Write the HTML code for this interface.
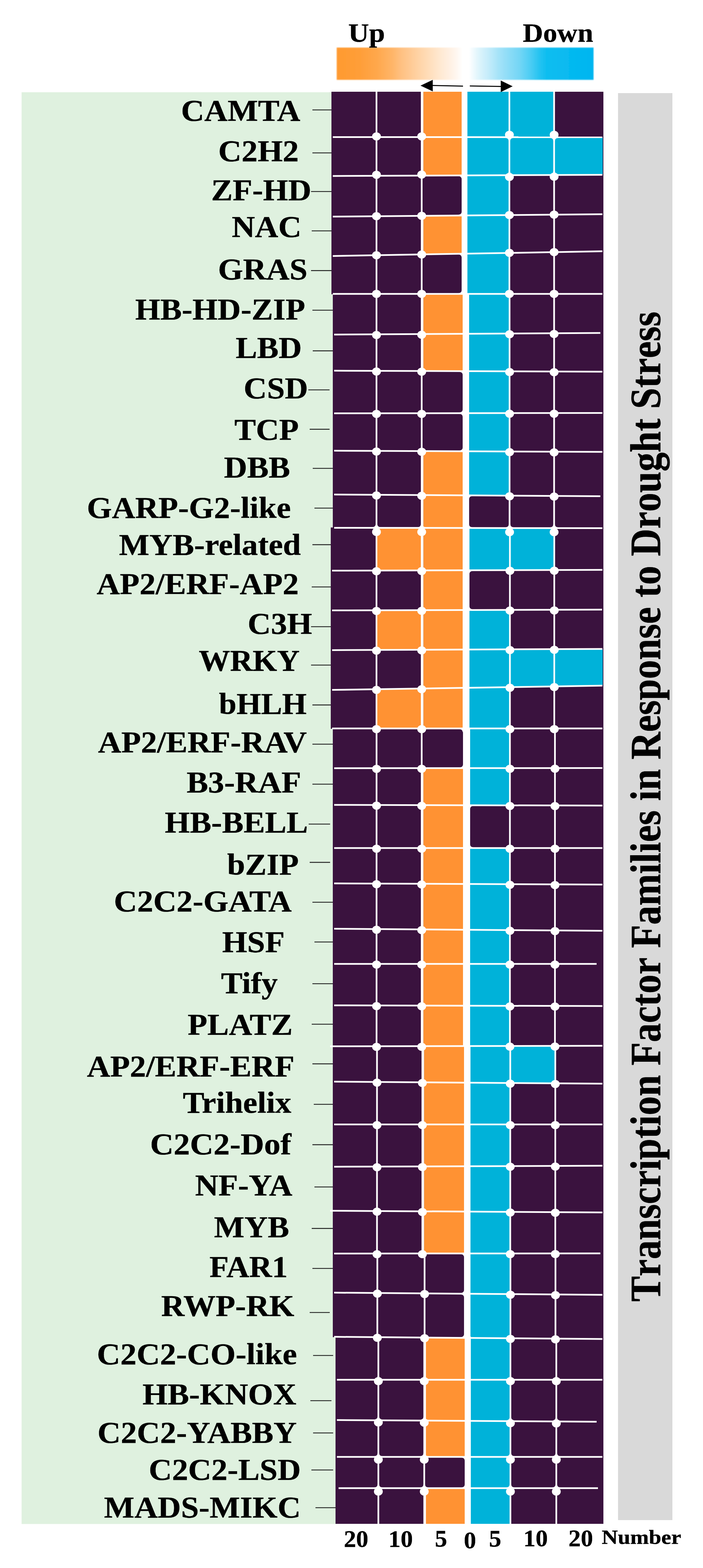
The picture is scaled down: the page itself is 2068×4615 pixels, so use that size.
<!DOCTYPE html>
<html lang="en"><head><meta charset="utf-8"><title>Transcription Factor Families in Response to Drought Stress</title>
<style>
html,body{margin:0;padding:0;background:#fff;}
body{width:2068px;height:4615px;overflow:hidden;}
svg{display:block;}
text{font-family:'Liberation Serif',serif;font-weight:bold;fill:#000;stroke:#000;stroke-width:0.6px;stroke-linejoin:round;}
.lbl{font-size:88px;text-anchor:end;}
.ax{font-size:70px;text-anchor:middle;}
.tk{stroke:#222;stroke-width:2.6;}
.wl{stroke:#fff;stroke-width:5;stroke-linecap:butt;}
.dot{fill:#fff;}
</style></head><body>
<svg width="2068" height="4615" viewBox="0 0 2068 4615" role="img" aria-label="Transcription factor families in response to drought stress">
<defs>
<linearGradient id="lg" x1="0" y1="0" x2="1" y2="0">
<stop offset="0" stop-color="#ff9a30"/>
<stop offset="0.09" stop-color="#ff9e38"/>
<stop offset="0.16" stop-color="#ffa84d"/>
<stop offset="0.22" stop-color="#ffb66a"/>
<stop offset="0.25" stop-color="#ffc081"/>
<stop offset="0.33" stop-color="#ffd6ab"/>
<stop offset="0.41" stop-color="#ffead5"/>
<stop offset="0.46" stop-color="#fff5ec"/>
<stop offset="0.49" stop-color="#ffffff"/>
<stop offset="0.515" stop-color="#ffffff"/>
<stop offset="0.55" stop-color="#e0f5fc"/>
<stop offset="0.59" stop-color="#c5ecfa"/>
<stop offset="0.63" stop-color="#a5e3f8"/>
<stop offset="0.67" stop-color="#8cdcf7"/>
<stop offset="0.71" stop-color="#75d6f5"/>
<stop offset="0.75" stop-color="#50cef4"/>
<stop offset="0.79" stop-color="#25c3f1"/>
<stop offset="0.82" stop-color="#0cbdf0"/>
<stop offset="1" stop-color="#00b5f0"/>
</linearGradient>
<filter id="soft" x="-2%" y="-10%" width="104%" height="120%"><feGaussianBlur stdDeviation="1.6"/></filter>
</defs>
<rect x="0" y="0" width="2068" height="4615" fill="#fff"/>
<rect x="63.5" y="271.5" width="926.5" height="4214" fill="#dff1df"/>
<rect x="1818" y="274" width="160" height="4200" fill="#d9d9d9"/>
<g id="grid">
<rect x="975" y="270" width="800" height="596" fill="#3a123e"/>
<rect x="979" y="864" width="796" height="690.5" fill="#3a123e"/>
<rect x="973" y="1552.5" width="802" height="592.5" fill="#3a123e"/>
<rect x="979" y="2143" width="796" height="937.5" fill="#3a123e"/>
<rect x="979" y="3078.5" width="796" height="612" fill="#3a123e"/>
<rect x="979" y="3688.5" width="796" height="247" fill="#3a123e"/>
<rect x="987" y="3933.5" width="788" height="551.5" fill="#3a123e"/>
<path fill="#fff" d="M1350,401.1 A8,8 0 0 0 1358,393.1 L1363,393.1 A8,8 0 0 0 1371,401.1 L1371,406.1 A8,8 0 0 0 1363,414.1 L1358,414.1 A8,8 0 0 0 1350,406.1 Z M1362,401.1 A8,8 0 0 0 1370,393.1 L1375,393.1 A8,8 0 0 0 1383,401.1 L1383,406.1 A8,8 0 0 0 1375,414.1 L1370,414.1 A8,8 0 0 0 1362,406.1 Z M1350,513.8 A8,8 0 0 0 1358,505.8 L1363,505.8 A8,8 0 0 0 1371,513.8 L1371,518.8 A8,8 0 0 0 1363,526.8 L1358,526.8 A8,8 0 0 0 1350,518.8 Z M1362,513.8 A8,8 0 0 0 1370,505.8 L1375,505.8 A8,8 0 0 0 1383,513.8 L1383,518.8 A8,8 0 0 0 1375,526.8 L1370,526.8 A8,8 0 0 0 1362,518.8 Z M1350,631.6 A8,8 0 0 0 1358,623.6 L1363,623.6 A8,8 0 0 0 1371,631.6 L1371,636.6 A8,8 0 0 0 1363,644.6 L1358,644.6 A8,8 0 0 0 1350,636.6 Z M1362,631.5 A8,8 0 0 0 1370,623.5 L1375,623.5 A8,8 0 0 0 1383,631.5 L1383,636.5 A8,8 0 0 0 1375,644.5 L1370,644.5 A8,8 0 0 0 1362,636.5 Z M1350,744.3 A8,8 0 0 0 1358,736.3 L1363,736.3 A8,8 0 0 0 1371,744.3 L1371,749.3 A8,8 0 0 0 1363,757.3 L1358,757.3 A8,8 0 0 0 1350,749.3 Z M1362,744 A8,8 0 0 0 1370,736 L1375,736 A8,8 0 0 0 1383,744 L1383,749 A8,8 0 0 0 1375,757 L1370,757 A8,8 0 0 0 1362,749 Z M1350,862.5 A8,8 0 0 0 1358,854.5 L1363,854.5 A8,8 0 0 0 1371,862.5 L1371,867.5 A8,8 0 0 0 1363,875.5 L1358,875.5 A8,8 0 0 0 1350,867.5 Z M1362,862.5 A8,8 0 0 0 1370,854.5 L1375,854.5 A8,8 0 0 0 1383,862.5 L1383,867.5 A8,8 0 0 0 1375,875.5 L1370,875.5 A8,8 0 0 0 1362,867.5 Z M1353,980 A8,8 0 0 0 1361,972 L1366,972 A8,8 0 0 0 1374,980 L1374,985 A8,8 0 0 0 1366,993 L1361,993 A8,8 0 0 0 1353,985 Z M1367,979.9 A8,8 0 0 0 1375,971.9 L1380,971.9 A8,8 0 0 0 1388,979.9 L1388,984.9 A8,8 0 0 0 1380,992.9 L1375,992.9 A8,8 0 0 0 1367,984.9 Z M1353,1090 A8,8 0 0 0 1361,1082 L1366,1082 A8,8 0 0 0 1374,1090 L1374,1095 A8,8 0 0 0 1366,1103 L1361,1103 A8,8 0 0 0 1353,1095 Z M1367,1090 A8,8 0 0 0 1375,1082 L1380,1082 A8,8 0 0 0 1388,1090 L1388,1095 A8,8 0 0 0 1380,1103 L1375,1103 A8,8 0 0 0 1367,1095 Z M1353,1213.5 A8,8 0 0 0 1361,1205.5 L1366,1205.5 A8,8 0 0 0 1374,1213.5 L1374,1218.5 A8,8 0 0 0 1366,1226.5 L1361,1226.5 A8,8 0 0 0 1353,1218.5 Z M1367,1213.5 A8,8 0 0 0 1375,1205.5 L1380,1205.5 A8,8 0 0 0 1388,1213.5 L1388,1218.5 A8,8 0 0 0 1380,1226.5 L1375,1226.5 A8,8 0 0 0 1367,1218.5 Z M1353,1325.7 A8,8 0 0 0 1361,1317.7 L1366,1317.7 A8,8 0 0 0 1374,1325.7 L1374,1330.7 A8,8 0 0 0 1366,1338.7 L1361,1338.7 A8,8 0 0 0 1353,1330.7 Z M1367,1325.8 A8,8 0 0 0 1375,1317.8 L1380,1317.8 A8,8 0 0 0 1388,1325.8 L1388,1330.8 A8,8 0 0 0 1380,1338.8 L1375,1338.8 A8,8 0 0 0 1367,1330.8 Z M1353,1455.4 A8,8 0 0 0 1361,1447.4 L1366,1447.4 A8,8 0 0 0 1374,1455.4 L1374,1460.4 A8,8 0 0 0 1366,1468.4 L1361,1468.4 A8,8 0 0 0 1353,1460.4 Z M1367,1455.5 A8,8 0 0 0 1375,1447.5 L1380,1447.5 A8,8 0 0 0 1388,1455.5 L1388,1460.5 A8,8 0 0 0 1380,1468.5 L1375,1468.5 A8,8 0 0 0 1367,1460.5 Z M1353,1551.5 A8,8 0 0 0 1361,1543.5 L1366,1543.5 A8,8 0 0 0 1374,1551.5 L1374,1556.5 A8,8 0 0 0 1366,1564.5 L1361,1564.5 A8,8 0 0 0 1353,1556.5 Z M1367,1551.5 A8,8 0 0 0 1375,1543.5 L1380,1543.5 A8,8 0 0 0 1388,1551.5 L1388,1556.5 A8,8 0 0 0 1380,1564.5 L1375,1564.5 A8,8 0 0 0 1367,1556.5 Z M1353,1676 A8,8 0 0 0 1361,1668 L1366,1668 A8,8 0 0 0 1374,1676 L1374,1681 A8,8 0 0 0 1366,1689 L1361,1689 A8,8 0 0 0 1353,1681 Z M1368,1675.9 A8,8 0 0 0 1376,1667.9 L1381,1667.9 A8,8 0 0 0 1389,1675.9 L1389,1680.9 A8,8 0 0 0 1381,1688.9 L1376,1688.9 A8,8 0 0 0 1368,1680.9 Z M1353,1793 A8,8 0 0 0 1361,1785 L1366,1785 A8,8 0 0 0 1374,1793 L1374,1798 A8,8 0 0 0 1366,1806 L1361,1806 A8,8 0 0 0 1353,1798 Z M1368,1792.9 A8,8 0 0 0 1376,1784.9 L1381,1784.9 A8,8 0 0 0 1389,1792.9 L1389,1797.9 A8,8 0 0 0 1381,1805.9 L1376,1805.9 A8,8 0 0 0 1368,1797.9 Z M1353,1909.3 A8,8 0 0 0 1361,1901.3 L1366,1901.3 A8,8 0 0 0 1374,1909.3 L1374,1914.3 A8,8 0 0 0 1366,1922.3 L1361,1922.3 A8,8 0 0 0 1353,1914.3 Z M1368,1909.2 A8,8 0 0 0 1376,1901.2 L1381,1901.2 A8,8 0 0 0 1389,1909.2 L1389,1914.2 A8,8 0 0 0 1381,1922.2 L1376,1922.2 A8,8 0 0 0 1368,1914.2 Z M1353,2022 A8,8 0 0 0 1361,2014 L1366,2014 A8,8 0 0 0 1374,2022 L1374,2027 A8,8 0 0 0 1366,2035 L1361,2035 A8,8 0 0 0 1353,2027 Z M1368,2021.7 A8,8 0 0 0 1376,2013.7 L1381,2013.7 A8,8 0 0 0 1389,2021.7 L1389,2026.7 A8,8 0 0 0 1381,2034.7 L1376,2034.7 A8,8 0 0 0 1368,2026.7 Z M1353,2141.5 A8,8 0 0 0 1361,2133.5 L1366,2133.5 A8,8 0 0 0 1374,2141.5 L1374,2146.5 A8,8 0 0 0 1366,2154.5 L1361,2154.5 A8,8 0 0 0 1353,2146.5 Z M1368,2141.5 A8,8 0 0 0 1376,2133.5 L1381,2133.5 A8,8 0 0 0 1389,2141.5 L1389,2146.5 A8,8 0 0 0 1381,2154.5 L1376,2154.5 A8,8 0 0 0 1368,2146.5 Z M1354,2258.3 A8,8 0 0 0 1362,2250.3 L1367,2250.3 A8,8 0 0 0 1375,2258.3 L1375,2263.3 A8,8 0 0 0 1367,2271.3 L1362,2271.3 A8,8 0 0 0 1354,2263.3 Z M1370,2258.2 A8,8 0 0 0 1378,2250.2 L1383,2250.2 A8,8 0 0 0 1391,2258.2 L1391,2263.2 A8,8 0 0 0 1383,2271.2 L1378,2271.2 A8,8 0 0 0 1370,2263.2 Z M1354,2367.5 A8,8 0 0 0 1362,2359.5 L1367,2359.5 A8,8 0 0 0 1375,2367.5 L1375,2372.5 A8,8 0 0 0 1367,2380.5 L1362,2380.5 A8,8 0 0 0 1354,2372.5 Z M1370,2367.5 A8,8 0 0 0 1378,2359.5 L1383,2359.5 A8,8 0 0 0 1391,2367.5 L1391,2372.5 A8,8 0 0 0 1383,2380.5 L1378,2380.5 A8,8 0 0 0 1370,2372.5 Z M1354,2493.5 A8,8 0 0 0 1362,2485.5 L1367,2485.5 A8,8 0 0 0 1375,2493.5 L1375,2498.5 A8,8 0 0 0 1367,2506.5 L1362,2506.5 A8,8 0 0 0 1354,2498.5 Z M1370,2493.5 A8,8 0 0 0 1378,2485.5 L1383,2485.5 A8,8 0 0 0 1391,2493.5 L1391,2498.5 A8,8 0 0 0 1383,2506.5 L1378,2506.5 A8,8 0 0 0 1370,2498.5 Z M1354,2599.2 A8,8 0 0 0 1362,2591.2 L1367,2591.2 A8,8 0 0 0 1375,2599.2 L1375,2604.2 A8,8 0 0 0 1367,2612.2 L1362,2612.2 A8,8 0 0 0 1354,2604.2 Z M1370,2599.3 A8,8 0 0 0 1378,2591.3 L1383,2591.3 A8,8 0 0 0 1391,2599.3 L1391,2604.3 A8,8 0 0 0 1383,2612.3 L1378,2612.3 A8,8 0 0 0 1370,2604.3 Z M1354,2733.9 A8,8 0 0 0 1362,2725.9 L1367,2725.9 A8,8 0 0 0 1375,2733.9 L1375,2738.9 A8,8 0 0 0 1367,2746.9 L1362,2746.9 A8,8 0 0 0 1354,2738.9 Z M1370,2734 A8,8 0 0 0 1378,2726 L1383,2726 A8,8 0 0 0 1391,2734 L1391,2739 A8,8 0 0 0 1383,2747 L1378,2747 A8,8 0 0 0 1370,2739 Z M1354,2834.5 A8,8 0 0 0 1362,2826.5 L1367,2826.5 A8,8 0 0 0 1375,2834.5 L1375,2839.5 A8,8 0 0 0 1367,2847.5 L1362,2847.5 A8,8 0 0 0 1354,2839.5 Z M1370,2834.5 A8,8 0 0 0 1378,2826.5 L1383,2826.5 A8,8 0 0 0 1391,2834.5 L1391,2839.5 A8,8 0 0 0 1383,2847.5 L1378,2847.5 A8,8 0 0 0 1370,2839.5 Z M1354,2957.5 A8,8 0 0 0 1362,2949.5 L1367,2949.5 A8,8 0 0 0 1375,2957.5 L1375,2962.5 A8,8 0 0 0 1367,2970.5 L1362,2970.5 A8,8 0 0 0 1354,2962.5 Z M1370,2957.5 A8,8 0 0 0 1378,2949.5 L1383,2949.5 A8,8 0 0 0 1391,2957.5 L1391,2962.5 A8,8 0 0 0 1383,2970.5 L1378,2970.5 A8,8 0 0 0 1370,2962.5 Z M1354,3076.3 A8,8 0 0 0 1362,3068.3 L1367,3068.3 A8,8 0 0 0 1375,3076.3 L1375,3081.3 A8,8 0 0 0 1367,3089.3 L1362,3089.3 A8,8 0 0 0 1354,3081.3 Z M1370,3076.2 A8,8 0 0 0 1378,3068.2 L1383,3068.2 A8,8 0 0 0 1391,3076.2 L1391,3081.2 A8,8 0 0 0 1383,3089.2 L1378,3089.2 A8,8 0 0 0 1370,3081.2 Z M1357,3183.9 A8,8 0 0 0 1365,3175.9 L1370,3175.9 A8,8 0 0 0 1378,3183.9 L1378,3188.9 A8,8 0 0 0 1370,3196.9 L1365,3196.9 A8,8 0 0 0 1357,3188.9 Z M1371,3184 A8,8 0 0 0 1379,3176 L1384,3176 A8,8 0 0 0 1392,3184 L1392,3189 A8,8 0 0 0 1384,3197 L1379,3197 A8,8 0 0 0 1371,3189 Z M1357,3307.1 A8,8 0 0 0 1365,3299.1 L1370,3299.1 A8,8 0 0 0 1378,3307.1 L1378,3312.1 A8,8 0 0 0 1370,3320.1 L1365,3320.1 A8,8 0 0 0 1357,3312.1 Z M1371,3307.1 A8,8 0 0 0 1379,3299.1 L1384,3299.1 A8,8 0 0 0 1392,3307.1 L1392,3312.1 A8,8 0 0 0 1384,3320.1 L1379,3320.1 A8,8 0 0 0 1371,3312.1 Z M1357,3430 A8,8 0 0 0 1365,3422 L1370,3422 A8,8 0 0 0 1378,3430 L1378,3435 A8,8 0 0 0 1370,3443 L1365,3443 A8,8 0 0 0 1357,3435 Z M1371,3430 A8,8 0 0 0 1379,3422 L1384,3422 A8,8 0 0 0 1392,3430 L1392,3435 A8,8 0 0 0 1384,3443 L1379,3443 A8,8 0 0 0 1371,3435 Z M1357,3563.5 A8,8 0 0 0 1365,3555.5 L1370,3555.5 A8,8 0 0 0 1378,3563.5 L1378,3568.5 A8,8 0 0 0 1370,3576.5 L1365,3576.5 A8,8 0 0 0 1357,3568.5 Z M1371,3563.5 A8,8 0 0 0 1379,3555.5 L1384,3555.5 A8,8 0 0 0 1392,3563.5 L1392,3568.5 A8,8 0 0 0 1384,3576.5 L1379,3576.5 A8,8 0 0 0 1371,3568.5 Z M1357,3686.8 A8,8 0 0 0 1365,3678.8 L1370,3678.8 A8,8 0 0 0 1378,3686.8 L1378,3691.8 A8,8 0 0 0 1370,3699.8 L1365,3699.8 A8,8 0 0 0 1357,3691.8 Z M1371,3686.7 A8,8 0 0 0 1379,3678.7 L1384,3678.7 A8,8 0 0 0 1392,3686.7 L1392,3691.7 A8,8 0 0 0 1384,3699.7 L1379,3699.7 A8,8 0 0 0 1371,3691.7 Z M1357,3805.2 A8,8 0 0 0 1365,3797.2 L1370,3797.2 A8,8 0 0 0 1378,3805.2 L1378,3810.2 A8,8 0 0 0 1370,3818.2 L1365,3818.2 A8,8 0 0 0 1357,3810.2 Z M1371,3805.3 A8,8 0 0 0 1379,3797.3 L1384,3797.3 A8,8 0 0 0 1392,3805.3 L1392,3810.3 A8,8 0 0 0 1384,3818.3 L1379,3818.3 A8,8 0 0 0 1371,3810.3 Z M1357,3935.2 A8,8 0 0 0 1365,3927.2 L1370,3927.2 A8,8 0 0 0 1378,3935.2 L1378,3940.2 A8,8 0 0 0 1370,3948.2 L1365,3948.2 A8,8 0 0 0 1357,3940.2 Z M1371,3935.3 A8,8 0 0 0 1379,3927.3 L1384,3927.3 A8,8 0 0 0 1392,3935.3 L1392,3940.3 A8,8 0 0 0 1384,3948.3 L1379,3948.3 A8,8 0 0 0 1371,3940.3 Z M1359,4058.5 A8,8 0 0 0 1367,4050.5 L1372,4050.5 A8,8 0 0 0 1380,4058.5 L1380,4063.5 A8,8 0 0 0 1372,4071.5 L1367,4071.5 A8,8 0 0 0 1359,4063.5 Z M1372,4058.5 A8,8 0 0 0 1380,4050.5 L1385,4050.5 A8,8 0 0 0 1393,4058.5 L1393,4063.5 A8,8 0 0 0 1385,4071.5 L1380,4071.5 A8,8 0 0 0 1372,4063.5 Z M1359,4179.5 A8,8 0 0 0 1367,4171.5 L1372,4171.5 A8,8 0 0 0 1380,4179.5 L1380,4184.5 A8,8 0 0 0 1372,4192.5 L1367,4192.5 A8,8 0 0 0 1359,4184.5 Z M1372,4179.5 A8,8 0 0 0 1380,4171.5 L1385,4171.5 A8,8 0 0 0 1393,4179.5 L1393,4184.5 A8,8 0 0 0 1385,4192.5 L1380,4192.5 A8,8 0 0 0 1372,4184.5 Z M1359,4285.5 A8,8 0 0 0 1367,4277.5 L1372,4277.5 A8,8 0 0 0 1380,4285.5 L1380,4290.5 A8,8 0 0 0 1372,4298.5 L1367,4298.5 A8,8 0 0 0 1359,4290.5 Z M1372,4285.5 A8,8 0 0 0 1380,4277.5 L1385,4277.5 A8,8 0 0 0 1393,4285.5 L1393,4290.5 A8,8 0 0 0 1385,4298.5 L1380,4298.5 A8,8 0 0 0 1372,4290.5 Z M1359,4377.5 A8,8 0 0 0 1367,4369.5 L1372,4369.5 A8,8 0 0 0 1380,4377.5 L1380,4382.5 A8,8 0 0 0 1372,4390.5 L1367,4390.5 A8,8 0 0 0 1359,4382.5 Z M1372,4377.5 A8,8 0 0 0 1380,4369.5 L1385,4369.5 A8,8 0 0 0 1393,4377.5 L1393,4382.5 A8,8 0 0 0 1385,4390.5 L1380,4390.5 A8,8 0 0 0 1372,4382.5 Z"/>
<polygon points="1245.5,270 1358,270 1358,402.3 1245.5,402.3" fill="#ff9233"/>
<polygon points="1240.5,270 1245.5,270 1245.5,403.6 1240.5,403.6" fill="#fff"/>
<polygon points="1375,270 1497.2,270 1497.2,402.4 1375,402.3" fill="#00b2d9"/>
<polygon points="1499.8,270 1628.7,270 1628.7,402.4 1499.8,402.4" fill="#00b2d9"/>
<polygon points="1245.5,404.9 1358,404.9 1358,515 1245.5,515.5" fill="#ff9233"/>
<polygon points="1240.5,403.6 1245.5,403.6 1245.5,516.8 1240.5,516.8" fill="#fff"/>
<polygon points="1375,404.9 1497.2,405 1497.2,514.4 1375,515" fill="#00b2d9"/>
<polygon points="1499.8,405 1628.7,405 1628.7,513.8 1499.8,514.4" fill="#00b2d9"/>
<polygon points="1631.3,405 1773,405.1 1773,513.2 1631.3,513.8" fill="#00b2d9"/>
<polygon points="1375,517.5 1497.2,517 1497.2,631.6 1375,632.7" fill="#00b2d9"/>
<polygon points="1245.5,636.4 1358,635.4 1358,745.5 1245.5,747.5" fill="#ff9233"/>
<polygon points="1240.5,635.2 1245.5,635.1 1245.5,748.8 1240.5,748.9" fill="#fff"/>
<polygon points="1375,635.3 1497.2,634.2 1497.2,743.1 1375,745.2" fill="#00b2d9"/>
<polygon points="1375,747.8 1497.2,745.7 1497.2,863.7 1375,863.7" fill="#00b2d9"/>
<polygon points="1245.5,866.3 1361,866.3 1361,981.2 1245.5,981.9" fill="#ff9233"/>
<polygon points="1240.5,865 1245.5,865 1245.5,983.2 1240.5,983.2" fill="#fff"/>
<polygon points="1380,866.3 1497.7,866.3 1497.7,980.4 1380,981.1" fill="#00b2d9"/>
<polygon points="1245.5,984.5 1361,983.8 1361,1091.1 1245.5,1090.7" fill="#ff9233"/>
<polygon points="1240.5,983.2 1245.5,983.2 1245.5,1092 1240.5,1092" fill="#fff"/>
<polygon points="1380,983.7 1497.7,983 1497.7,1091.7 1380,1091.2" fill="#00b2d9"/>
<polygon points="1380,1093.8 1497.7,1094.3 1497.7,1214.5 1380,1214.7" fill="#00b2d9"/>
<polygon points="1380,1217.3 1497.7,1217.1 1497.7,1327.5 1380,1327" fill="#00b2d9"/>
<polygon points="1245.5,1329 1361,1329.5 1361,1456.6 1245.5,1455.9" fill="#ff9233"/>
<polygon points="1240.5,1327.7 1245.5,1327.7 1245.5,1457.2 1240.5,1457.2" fill="#fff"/>
<polygon points="1380,1329.6 1497.7,1330.1 1497.7,1457.5 1380,1456.7" fill="#00b2d9"/>
<polygon points="1245.5,1458.5 1361,1459.2 1361,1552.7 1245.5,1552.5" fill="#ff9233"/>
<polygon points="1240.5,1457.2 1245.5,1457.2 1245.5,1553.8 1240.5,1553.8" fill="#fff"/>
<polygon points="1245.5,1555.1 1361,1555.3 1361,1677.2 1245.5,1677.5" fill="#ff9233"/>
<polygon points="1108.8,1555 1239.2,1555.1 1239.2,1677.5 1108.8,1677.9" fill="#ff9233"/>
<polygon points="1240.5,1553.8 1245.5,1553.8 1245.5,1678.8 1240.5,1678.8" fill="#fff"/>
<polygon points="1381,1555.3 1498.7,1555.5 1498.7,1676.8 1381,1677.1" fill="#00b2d9"/>
<polygon points="1501.3,1555.5 1629.2,1555.6 1629.2,1676.4 1501.3,1676.8" fill="#00b2d9"/>
<polygon points="1245.5,1680.1 1361,1679.8 1361,1794.2 1245.5,1794.5" fill="#ff9233"/>
<polygon points="1240.5,1678.8 1245.5,1678.8 1245.5,1795.8 1240.5,1795.8" fill="#fff"/>
<polygon points="1245.5,1797.1 1361,1796.8 1361,1910.5 1245.5,1911" fill="#ff9233"/>
<polygon points="1108.8,1797.5 1239.2,1797.1 1239.2,1911 1108.8,1911.6" fill="#ff9233"/>
<polygon points="1240.5,1795.8 1245.5,1795.8 1245.5,1912.3 1240.5,1912.3" fill="#fff"/>
<polygon points="1381,1796.7 1498.7,1796.4 1498.7,1909.9 1381,1910.4" fill="#00b2d9"/>
<polygon points="1245.5,1913.6 1361,1913.1 1361,2023.2 1245.5,2025" fill="#ff9233"/>
<polygon points="1240.5,1912.3 1245.5,1912.3 1245.5,2026.3 1240.5,2026.4" fill="#fff"/>
<polygon points="1381,1913 1498.7,1912.5 1498.7,2021.1 1381,2022.9" fill="#00b2d9"/>
<polygon points="1501.3,1912.5 1629.2,1911.9 1629.2,2019 1501.3,2021" fill="#00b2d9"/>
<polygon points="1631.8,1911.9 1773,1911.3 1773,2016.7 1631.8,2019" fill="#00b2d9"/>
<polygon points="1245.5,2027.6 1361,2025.8 1361,2142.7 1245.5,2142.7" fill="#ff9233"/>
<polygon points="1108.8,2029.8 1239.2,2027.7 1239.2,2142.7 1108.8,2142.7" fill="#ff9233"/>
<polygon points="1240.5,2026.4 1245.5,2026.3 1245.5,2144 1240.5,2144" fill="#fff"/>
<polygon points="1381,2025.5 1498.7,2023.7 1498.7,2142.7 1381,2142.7" fill="#00b2d9"/>
<polygon points="1383,2145.3 1498.7,2145.3 1498.7,2259.4 1383,2259.4" fill="#00b2d9"/>
<polygon points="1245.5,2262.1 1362,2262.1 1362,2368.7 1245.5,2368.4" fill="#ff9233"/>
<polygon points="1240.5,2260.8 1245.5,2260.8 1245.5,2369.7 1240.5,2369.7" fill="#fff"/>
<polygon points="1383,2262 1498.7,2262 1498.7,2369 1383,2368.7" fill="#00b2d9"/>
<polygon points="1245.5,2371 1362,2371.3 1362,2494.7 1245.5,2494.7" fill="#ff9233"/>
<polygon points="1240.5,2369.7 1245.5,2369.7 1245.5,2496 1240.5,2496" fill="#fff"/>
<polygon points="1245.5,2497.3 1362,2497.3 1362,2600.4 1245.5,2599.9" fill="#ff9233"/>
<polygon points="1240.5,2496 1245.5,2496 1245.5,2601.2 1240.5,2601.2" fill="#fff"/>
<polygon points="1383,2497.3 1498.7,2497.3 1498.7,2601 1383,2600.5" fill="#00b2d9"/>
<polygon points="1245.5,2602.5 1362,2603 1362,2735.1 1245.5,2734.2" fill="#ff9233"/>
<polygon points="1240.5,2601.2 1245.5,2601.2 1245.5,2735.5 1240.5,2735.5" fill="#fff"/>
<polygon points="1383,2603.1 1498.7,2603.6 1498.7,2736.1 1383,2735.3" fill="#00b2d9"/>
<polygon points="1245.5,2736.8 1362,2737.7 1362,2835.7 1245.5,2835.7" fill="#ff9233"/>
<polygon points="1240.5,2735.5 1245.5,2735.5 1245.5,2837 1240.5,2837" fill="#fff"/>
<polygon points="1383,2737.9 1498.7,2738.7 1498.7,2835.7 1383,2835.7" fill="#00b2d9"/>
<polygon points="1245.5,2838.3 1362,2838.3 1362,2958.7 1245.5,2958.4" fill="#ff9233"/>
<polygon points="1240.5,2837 1245.5,2837 1245.5,2959.7 1240.5,2959.7" fill="#fff"/>
<polygon points="1383,2838.3 1498.7,2838.3 1498.7,2959 1383,2958.7" fill="#00b2d9"/>
<polygon points="1245.5,2961 1362,2961.3 1362,3077.5 1245.5,3077.7" fill="#ff9233"/>
<polygon points="1240.5,2959.7 1245.5,2959.7 1245.5,3079 1240.5,3079" fill="#fff"/>
<polygon points="1383,2961.3 1498.7,2961.6 1498.7,3077.2 1383,3077.4" fill="#00b2d9"/>
<polygon points="1247.5,3080.3 1365,3080.1 1365,3185.1 1247.5,3184.2" fill="#ff9233"/>
<polygon points="1242.5,3079 1247.5,3079 1247.5,3185.5 1242.5,3185.5" fill="#fff"/>
<polygon points="1384,3080 1499.7,3079.8 1499.7,3186.1 1384,3185.3" fill="#00b2d9"/>
<polygon points="1502.3,3079.8 1632.2,3079.6 1632.2,3187.1 1502.3,3186.2" fill="#00b2d9"/>
<polygon points="1247.5,3186.8 1365,3187.7 1365,3308.3 1247.5,3308.3" fill="#ff9233"/>
<polygon points="1242.5,3185.5 1247.5,3185.5 1247.5,3309.6 1242.5,3309.6" fill="#fff"/>
<polygon points="1384,3187.9 1499.7,3188.7 1499.7,3308.3 1384,3308.3" fill="#00b2d9"/>
<polygon points="1247.5,3310.9 1365,3310.9 1365,3431.2 1247.5,3431.7" fill="#ff9233"/>
<polygon points="1242.5,3309.6 1247.5,3309.6 1247.5,3433 1242.5,3433" fill="#fff"/>
<polygon points="1384,3310.9 1499.7,3310.9 1499.7,3430.7 1384,3431.2" fill="#00b2d9"/>
<polygon points="1247.5,3434.3 1365,3433.8 1365,3564.6 1247.5,3563.9" fill="#ff9233"/>
<polygon points="1242.5,3433 1247.5,3433 1247.5,3565.2 1242.5,3565.2" fill="#fff"/>
<polygon points="1384,3433.8 1499.7,3433.3 1499.7,3565.5 1384,3564.8" fill="#00b2d9"/>
<polygon points="1247.5,3566.5 1365,3567.2 1365,3688 1247.5,3688" fill="#ff9233"/>
<polygon points="1242.5,3565.2 1247.5,3565.2 1247.5,3689.3 1242.5,3689.3" fill="#fff"/>
<polygon points="1384,3567.4 1499.7,3568.1 1499.7,3687.9 1384,3687.9" fill="#00b2d9"/>
<polygon points="1384,3690.5 1500.2,3690.5 1500.2,3807.5 1384,3806.5" fill="#00b2d9"/>
<polygon points="1384,3809.1 1500.2,3810.1 1500.2,3937.5 1384,3936.5" fill="#00b2d9"/>
<polygon points="1253,3938.1 1367,3939 1367,4059.7 1253,4059.7" fill="#ff9233"/>
<polygon points="1248,3936.7 1253,3936.8 1253,4061 1248,4061" fill="#fff"/>
<polygon points="1385,3939.1 1500.2,3940.1 1500.2,4059.7 1385,4059.7" fill="#00b2d9"/>
<polygon points="1253,4062.3 1367,4062.3 1367,4180.6 1253,4179.9" fill="#ff9233"/>
<polygon points="1248,4061 1253,4061 1253,4181.2 1248,4181.2" fill="#fff"/>
<polygon points="1385,4062.3 1500.2,4062.3 1500.2,4181.5 1385,4180.8" fill="#00b2d9"/>
<polygon points="1253,4182.5 1367,4183.2 1367,4286.7 1253,4286.7" fill="#ff9233"/>
<polygon points="1248,4181.2 1253,4181.2 1253,4288 1248,4288" fill="#fff"/>
<polygon points="1385,4183.4 1500.2,4184.1 1500.2,4286.7 1385,4286.7" fill="#00b2d9"/>
<polygon points="1385,4289.3 1500.2,4289.3 1500.2,4378.7 1385,4378.7" fill="#00b2d9"/>
<polygon points="1253,4381.3 1367,4381.3 1367,4485 1253,4485" fill="#ff9233"/>
<polygon points="1248,4380 1253,4380 1253,4485 1248,4485" fill="#fff"/>
<polygon points="1385,4381.3 1500.2,4381.3 1500.2,4485 1385,4485" fill="#00b2d9"/>
<g class="wl">
<line x1="1107.5" y1="270" x2="1107.5" y2="865"/>
<line x1="1240.5" y1="270" x2="1240.5" y2="865"/>
<line x1="1498.5" y1="270" x2="1498.5" y2="865"/>
<line x1="1630" y1="270" x2="1630" y2="865"/>
<line x1="979" y1="403.5" x2="1772" y2="403.8"/>
<line x1="979" y1="518" x2="1772" y2="514.5"/>
<line x1="979" y1="637.5" x2="1772" y2="630.5"/>
<line x1="979" y1="753.4" x2="1772" y2="739.6"/>
<line x1="979" y1="865" x2="1772" y2="865"/>
<line x1="1107.5" y1="865" x2="1107.5" y2="1553.5"/>
<line x1="1240.5" y1="865" x2="1240.5" y2="1553.5"/>
<line x1="1499" y1="865" x2="1499" y2="1553.5"/>
<line x1="1630" y1="865" x2="1630" y2="1553.5"/>
<line x1="983" y1="984.8" x2="1766" y2="980.1"/>
<line x1="983" y1="1091" x2="1772" y2="1094"/>
<line x1="983" y1="1216.5" x2="1772" y2="1215.5"/>
<line x1="983" y1="1326.5" x2="1772" y2="1330"/>
<line x1="983" y1="1455.5" x2="1766" y2="1460.4"/>
<line x1="983" y1="1553.5" x2="1772" y2="1554.5"/>
<line x1="1107.5" y1="1553.5" x2="1107.5" y2="2144"/>
<line x1="1240.5" y1="1553.5" x2="1240.5" y2="2144"/>
<line x1="1500" y1="1553.5" x2="1500" y2="2144"/>
<line x1="1630.5" y1="1553.5" x2="1630.5" y2="2144"/>
<line x1="977" y1="1679.6" x2="1772" y2="1677.3"/>
<line x1="977" y1="1796.6" x2="1771" y2="1794.3"/>
<line x1="977" y1="1913.5" x2="1772" y2="1910"/>
<line x1="977" y1="2030.6" x2="1772" y2="2018"/>
<line x1="977" y1="2144" x2="1772" y2="2144"/>
<line x1="1107.7" y1="2144" x2="1107.7" y2="3079.5"/>
<line x1="1240.5" y1="2144" x2="1240.5" y2="3079.5"/>
<line x1="1500" y1="2144" x2="1500" y2="3079.5"/>
<line x1="1632.5" y1="2144" x2="1632.5" y2="3079.5"/>
<line x1="983" y1="2261" x2="1772" y2="2260.5"/>
<line x1="983" y1="2369" x2="1772" y2="2371"/>
<line x1="983" y1="2496" x2="1772" y2="2496"/>
<line x1="983" y1="2600" x2="1772" y2="2603.5"/>
<line x1="983" y1="2733.6" x2="1772" y2="2739.5"/>
<line x1="983" y1="2837" x2="1755" y2="2837"/>
<line x1="983" y1="2959" x2="1772" y2="2961"/>
<line x1="971" y1="3079.5" x2="1772" y2="3078"/>
<line x1="1109" y1="3079.5" x2="1109" y2="3689.5"/>
<line x1="1242.5" y1="3079.5" x2="1242.5" y2="3689.5"/>
<line x1="1501" y1="3079.5" x2="1501" y2="3689.5"/>
<line x1="1633.5" y1="3079.5" x2="1633.5" y2="3689.5"/>
<line x1="983" y1="3183.6" x2="1772" y2="3189.5"/>
<line x1="983" y1="3309.6" x2="1772" y2="3309.6"/>
<line x1="983" y1="3434" x2="1772" y2="3431"/>
<line x1="971" y1="3563.5" x2="1772" y2="3568.5"/>
<line x1="983" y1="3689.5" x2="1766" y2="3689"/>
<line x1="1110" y1="3689.5" x2="1110" y2="3934.5"/>
<line x1="1249" y1="3689.5" x2="1249" y2="3934.5"/>
<line x1="1501.5" y1="3689.5" x2="1501.5" y2="3934.5"/>
<line x1="1634" y1="3689.5" x2="1634" y2="3934.5"/>
<line x1="983" y1="3804.6" x2="1772" y2="3811"/>
<line x1="983" y1="3934.6" x2="1772" y2="3941"/>
<line x1="1113" y1="3934.5" x2="1113" y2="4485"/>
<line x1="1248" y1="3934.5" x2="1248" y2="4485"/>
<line x1="1501.5" y1="3934.5" x2="1501.5" y2="4485"/>
<line x1="1636.5" y1="3934.5" x2="1636.5" y2="4485"/>
<line x1="991" y1="4061" x2="1772" y2="4061"/>
<line x1="991" y1="4179.6" x2="1755" y2="4184.4"/>
<line x1="991" y1="4288" x2="1772" y2="4288"/>
<line x1="996" y1="4380" x2="1759" y2="4380"/>
</g>
<path fill="#fff" d="M1097,401 A8,8 0 0 0 1105,393 L1110,393 A8,8 0 0 0 1118,401 L1118,406 A8,8 0 0 0 1110,414 L1105,414 A8,8 0 0 0 1097,406 Z M1230,401.1 A8,8 0 0 0 1238,393.1 L1243,393.1 A8,8 0 0 0 1251,401.1 L1251,406.1 A8,8 0 0 0 1243,414.1 L1238,414.1 A8,8 0 0 0 1230,406.1 Z M1488,401.2 A8,8 0 0 0 1496,393.2 L1501,393.2 A8,8 0 0 0 1509,401.2 L1509,406.2 A8,8 0 0 0 1501,414.2 L1496,414.2 A8,8 0 0 0 1488,406.2 Z M1619.5,401.2 A8,8 0 0 0 1627.5,393.2 L1632.5,393.2 A8,8 0 0 0 1640.5,401.2 L1640.5,406.2 A8,8 0 0 0 1632.5,414.2 L1627.5,414.2 A8,8 0 0 0 1619.5,406.2 Z M1097,514.9 A8,8 0 0 0 1105,506.9 L1110,506.9 A8,8 0 0 0 1118,514.9 L1118,519.9 A8,8 0 0 0 1110,527.9 L1105,527.9 A8,8 0 0 0 1097,519.9 Z M1230,514.3 A8,8 0 0 0 1238,506.3 L1243,506.3 A8,8 0 0 0 1251,514.3 L1251,519.3 A8,8 0 0 0 1243,527.3 L1238,527.3 A8,8 0 0 0 1230,519.3 Z M1488,513.2 A8,8 0 0 0 1496,505.2 L1501,505.2 A8,8 0 0 0 1509,513.2 L1509,518.2 A8,8 0 0 0 1501,526.2 L1496,526.2 A8,8 0 0 0 1488,518.2 Z M1619.5,512.6 A8,8 0 0 0 1627.5,504.6 L1632.5,504.6 A8,8 0 0 0 1640.5,512.6 L1640.5,517.6 A8,8 0 0 0 1632.5,525.6 L1627.5,525.6 A8,8 0 0 0 1619.5,517.6 Z M1097,633.8 A8,8 0 0 0 1105,625.8 L1110,625.8 A8,8 0 0 0 1118,633.8 L1118,638.8 A8,8 0 0 0 1110,646.8 L1105,646.8 A8,8 0 0 0 1097,638.8 Z M1230,632.7 A8,8 0 0 0 1238,624.7 L1243,624.7 A8,8 0 0 0 1251,632.7 L1251,637.7 A8,8 0 0 0 1243,645.7 L1238,645.7 A8,8 0 0 0 1230,637.7 Z M1488,630.4 A8,8 0 0 0 1496,622.4 L1501,622.4 A8,8 0 0 0 1509,630.4 L1509,635.4 A8,8 0 0 0 1501,643.4 L1496,643.4 A8,8 0 0 0 1488,635.4 Z M1619.5,629.3 A8,8 0 0 0 1627.5,621.3 L1632.5,621.3 A8,8 0 0 0 1640.5,629.3 L1640.5,634.3 A8,8 0 0 0 1632.5,642.3 L1627.5,642.3 A8,8 0 0 0 1619.5,634.3 Z M1097,748.7 A8,8 0 0 0 1105,740.7 L1110,740.7 A8,8 0 0 0 1118,748.7 L1118,753.7 A8,8 0 0 0 1110,761.7 L1105,761.7 A8,8 0 0 0 1097,753.7 Z M1230,746.4 A8,8 0 0 0 1238,738.4 L1243,738.4 A8,8 0 0 0 1251,746.4 L1251,751.4 A8,8 0 0 0 1243,759.4 L1238,759.4 A8,8 0 0 0 1230,751.4 Z M1488,741.8 A8,8 0 0 0 1496,733.8 L1501,733.8 A8,8 0 0 0 1509,741.8 L1509,746.8 A8,8 0 0 0 1501,754.8 L1496,754.8 A8,8 0 0 0 1488,746.8 Z M1619.5,739.5 A8,8 0 0 0 1627.5,731.5 L1632.5,731.5 A8,8 0 0 0 1640.5,739.5 L1640.5,744.5 A8,8 0 0 0 1632.5,752.5 L1627.5,752.5 A8,8 0 0 0 1619.5,744.5 Z M1097,862.5 A8,8 0 0 0 1105,854.5 L1110,854.5 A8,8 0 0 0 1118,862.5 L1118,867.5 A8,8 0 0 0 1110,875.5 L1105,875.5 A8,8 0 0 0 1097,867.5 Z M1230,862.5 A8,8 0 0 0 1238,854.5 L1243,854.5 A8,8 0 0 0 1251,862.5 L1251,867.5 A8,8 0 0 0 1243,875.5 L1238,875.5 A8,8 0 0 0 1230,867.5 Z M1488,862.5 A8,8 0 0 0 1496,854.5 L1501,854.5 A8,8 0 0 0 1509,862.5 L1509,867.5 A8,8 0 0 0 1501,875.5 L1496,875.5 A8,8 0 0 0 1488,867.5 Z M1619.5,862.5 A8,8 0 0 0 1627.5,854.5 L1632.5,854.5 A8,8 0 0 0 1640.5,862.5 L1640.5,867.5 A8,8 0 0 0 1632.5,875.5 L1627.5,875.5 A8,8 0 0 0 1619.5,867.5 Z M1097,981.5 A8,8 0 0 0 1105,973.5 L1110,973.5 A8,8 0 0 0 1118,981.5 L1118,986.5 A8,8 0 0 0 1110,994.5 L1105,994.5 A8,8 0 0 0 1097,986.5 Z M1230,980.7 A8,8 0 0 0 1238,972.7 L1243,972.7 A8,8 0 0 0 1251,980.7 L1251,985.7 A8,8 0 0 0 1243,993.7 L1238,993.7 A8,8 0 0 0 1230,985.7 Z M1488.5,979.2 A8,8 0 0 0 1496.5,971.2 L1501.5,971.2 A8,8 0 0 0 1509.5,979.2 L1509.5,984.2 A8,8 0 0 0 1501.5,992.2 L1496.5,992.2 A8,8 0 0 0 1488.5,984.2 Z M1619.5,978.4 A8,8 0 0 0 1627.5,970.4 L1632.5,970.4 A8,8 0 0 0 1640.5,978.4 L1640.5,983.4 A8,8 0 0 0 1632.5,991.4 L1627.5,991.4 A8,8 0 0 0 1619.5,983.4 Z M1097,1089 A8,8 0 0 0 1105,1081 L1110,1081 A8,8 0 0 0 1118,1089 L1118,1094 A8,8 0 0 0 1110,1102 L1105,1102 A8,8 0 0 0 1097,1094 Z M1230,1089.5 A8,8 0 0 0 1238,1081.5 L1243,1081.5 A8,8 0 0 0 1251,1089.5 L1251,1094.5 A8,8 0 0 0 1243,1102.5 L1238,1102.5 A8,8 0 0 0 1230,1094.5 Z M1488.5,1090.5 A8,8 0 0 0 1496.5,1082.5 L1501.5,1082.5 A8,8 0 0 0 1509.5,1090.5 L1509.5,1095.5 A8,8 0 0 0 1501.5,1103.5 L1496.5,1103.5 A8,8 0 0 0 1488.5,1095.5 Z M1619.5,1091 A8,8 0 0 0 1627.5,1083 L1632.5,1083 A8,8 0 0 0 1640.5,1091 L1640.5,1096 A8,8 0 0 0 1632.5,1104 L1627.5,1104 A8,8 0 0 0 1619.5,1096 Z M1097,1213.8 A8,8 0 0 0 1105,1205.8 L1110,1205.8 A8,8 0 0 0 1118,1213.8 L1118,1218.8 A8,8 0 0 0 1110,1226.8 L1105,1226.8 A8,8 0 0 0 1097,1218.8 Z M1230,1213.7 A8,8 0 0 0 1238,1205.7 L1243,1205.7 A8,8 0 0 0 1251,1213.7 L1251,1218.7 A8,8 0 0 0 1243,1226.7 L1238,1226.7 A8,8 0 0 0 1230,1218.7 Z M1488.5,1213.3 A8,8 0 0 0 1496.5,1205.3 L1501.5,1205.3 A8,8 0 0 0 1509.5,1213.3 L1509.5,1218.3 A8,8 0 0 0 1501.5,1226.3 L1496.5,1226.3 A8,8 0 0 0 1488.5,1218.3 Z M1619.5,1213.2 A8,8 0 0 0 1627.5,1205.2 L1632.5,1205.2 A8,8 0 0 0 1640.5,1213.2 L1640.5,1218.2 A8,8 0 0 0 1632.5,1226.2 L1627.5,1226.2 A8,8 0 0 0 1619.5,1218.2 Z M1097,1324.6 A8,8 0 0 0 1105,1316.6 L1110,1316.6 A8,8 0 0 0 1118,1324.6 L1118,1329.6 A8,8 0 0 0 1110,1337.6 L1105,1337.6 A8,8 0 0 0 1097,1329.6 Z M1230,1325.2 A8,8 0 0 0 1238,1317.2 L1243,1317.2 A8,8 0 0 0 1251,1325.2 L1251,1330.2 A8,8 0 0 0 1243,1338.2 L1238,1338.2 A8,8 0 0 0 1230,1330.2 Z M1488.5,1326.3 A8,8 0 0 0 1496.5,1318.3 L1501.5,1318.3 A8,8 0 0 0 1509.5,1326.3 L1509.5,1331.3 A8,8 0 0 0 1501.5,1339.3 L1496.5,1339.3 A8,8 0 0 0 1488.5,1331.3 Z M1619.5,1326.9 A8,8 0 0 0 1627.5,1318.9 L1632.5,1318.9 A8,8 0 0 0 1640.5,1326.9 L1640.5,1331.9 A8,8 0 0 0 1632.5,1339.9 L1627.5,1339.9 A8,8 0 0 0 1619.5,1331.9 Z M1097,1453.8 A8,8 0 0 0 1105,1445.8 L1110,1445.8 A8,8 0 0 0 1118,1453.8 L1118,1458.8 A8,8 0 0 0 1110,1466.8 L1105,1466.8 A8,8 0 0 0 1097,1458.8 Z M1230,1454.7 A8,8 0 0 0 1238,1446.7 L1243,1446.7 A8,8 0 0 0 1251,1454.7 L1251,1459.7 A8,8 0 0 0 1243,1467.7 L1238,1467.7 A8,8 0 0 0 1230,1459.7 Z M1488.5,1456.3 A8,8 0 0 0 1496.5,1448.3 L1501.5,1448.3 A8,8 0 0 0 1509.5,1456.3 L1509.5,1461.3 A8,8 0 0 0 1501.5,1469.3 L1496.5,1469.3 A8,8 0 0 0 1488.5,1461.3 Z M1619.5,1457.1 A8,8 0 0 0 1627.5,1449.1 L1632.5,1449.1 A8,8 0 0 0 1640.5,1457.1 L1640.5,1462.1 A8,8 0 0 0 1632.5,1470.1 L1627.5,1470.1 A8,8 0 0 0 1619.5,1462.1 Z M1097,1551.2 A8,8 0 0 0 1105,1543.2 L1110,1543.2 A8,8 0 0 0 1118,1551.2 L1118,1556.2 A8,8 0 0 0 1110,1564.2 L1105,1564.2 A8,8 0 0 0 1097,1556.2 Z M1230,1551.3 A8,8 0 0 0 1238,1543.3 L1243,1543.3 A8,8 0 0 0 1251,1551.3 L1251,1556.3 A8,8 0 0 0 1243,1564.3 L1238,1564.3 A8,8 0 0 0 1230,1556.3 Z M1488.5,1551.7 A8,8 0 0 0 1496.5,1543.7 L1501.5,1543.7 A8,8 0 0 0 1509.5,1551.7 L1509.5,1556.7 A8,8 0 0 0 1501.5,1564.7 L1496.5,1564.7 A8,8 0 0 0 1488.5,1556.7 Z M1619.5,1551.8 A8,8 0 0 0 1627.5,1543.8 L1632.5,1543.8 A8,8 0 0 0 1640.5,1551.8 L1640.5,1556.8 A8,8 0 0 0 1632.5,1564.8 L1627.5,1564.8 A8,8 0 0 0 1619.5,1556.8 Z M1097,1676.7 A8,8 0 0 0 1105,1668.7 L1110,1668.7 A8,8 0 0 0 1118,1676.7 L1118,1681.7 A8,8 0 0 0 1110,1689.7 L1105,1689.7 A8,8 0 0 0 1097,1681.7 Z M1230,1676.3 A8,8 0 0 0 1238,1668.3 L1243,1668.3 A8,8 0 0 0 1251,1676.3 L1251,1681.3 A8,8 0 0 0 1243,1689.3 L1238,1689.3 A8,8 0 0 0 1230,1681.3 Z M1489.5,1675.6 A8,8 0 0 0 1497.5,1667.6 L1502.5,1667.6 A8,8 0 0 0 1510.5,1675.6 L1510.5,1680.6 A8,8 0 0 0 1502.5,1688.6 L1497.5,1688.6 A8,8 0 0 0 1489.5,1680.6 Z M1620,1675.2 A8,8 0 0 0 1628,1667.2 L1633,1667.2 A8,8 0 0 0 1641,1675.2 L1641,1680.2 A8,8 0 0 0 1633,1688.2 L1628,1688.2 A8,8 0 0 0 1620,1680.2 Z M1097,1793.7 A8,8 0 0 0 1105,1785.7 L1110,1785.7 A8,8 0 0 0 1118,1793.7 L1118,1798.7 A8,8 0 0 0 1110,1806.7 L1105,1806.7 A8,8 0 0 0 1097,1798.7 Z M1230,1793.3 A8,8 0 0 0 1238,1785.3 L1243,1785.3 A8,8 0 0 0 1251,1793.3 L1251,1798.3 A8,8 0 0 0 1243,1806.3 L1238,1806.3 A8,8 0 0 0 1230,1798.3 Z M1489.5,1792.6 A8,8 0 0 0 1497.5,1784.6 L1502.5,1784.6 A8,8 0 0 0 1510.5,1792.6 L1510.5,1797.6 A8,8 0 0 0 1502.5,1805.6 L1497.5,1805.6 A8,8 0 0 0 1489.5,1797.6 Z M1620,1792.2 A8,8 0 0 0 1628,1784.2 L1633,1784.2 A8,8 0 0 0 1641,1792.2 L1641,1797.2 A8,8 0 0 0 1633,1805.2 L1628,1805.2 A8,8 0 0 0 1620,1797.2 Z M1097,1910.4 A8,8 0 0 0 1105,1902.4 L1110,1902.4 A8,8 0 0 0 1118,1910.4 L1118,1915.4 A8,8 0 0 0 1110,1923.4 L1105,1923.4 A8,8 0 0 0 1097,1915.4 Z M1230,1909.8 A8,8 0 0 0 1238,1901.8 L1243,1901.8 A8,8 0 0 0 1251,1909.8 L1251,1914.8 A8,8 0 0 0 1243,1922.8 L1238,1922.8 A8,8 0 0 0 1230,1914.8 Z M1489.5,1908.7 A8,8 0 0 0 1497.5,1900.7 L1502.5,1900.7 A8,8 0 0 0 1510.5,1908.7 L1510.5,1913.7 A8,8 0 0 0 1502.5,1921.7 L1497.5,1921.7 A8,8 0 0 0 1489.5,1913.7 Z M1620,1908.1 A8,8 0 0 0 1628,1900.1 L1633,1900.1 A8,8 0 0 0 1641,1908.1 L1641,1913.1 A8,8 0 0 0 1633,1921.1 L1628,1921.1 A8,8 0 0 0 1620,1913.1 Z M1097,2026 A8,8 0 0 0 1105,2018 L1110,2018 A8,8 0 0 0 1118,2026 L1118,2031 A8,8 0 0 0 1110,2039 L1105,2039 A8,8 0 0 0 1097,2031 Z M1230,2023.9 A8,8 0 0 0 1238,2015.9 L1243,2015.9 A8,8 0 0 0 1251,2023.9 L1251,2028.9 A8,8 0 0 0 1243,2036.9 L1238,2036.9 A8,8 0 0 0 1230,2028.9 Z M1489.5,2019.8 A8,8 0 0 0 1497.5,2011.8 L1502.5,2011.8 A8,8 0 0 0 1510.5,2019.8 L1510.5,2024.8 A8,8 0 0 0 1502.5,2032.8 L1497.5,2032.8 A8,8 0 0 0 1489.5,2024.8 Z M1620,2017.8 A8,8 0 0 0 1628,2009.8 L1633,2009.8 A8,8 0 0 0 1641,2017.8 L1641,2022.8 A8,8 0 0 0 1633,2030.8 L1628,2030.8 A8,8 0 0 0 1620,2022.8 Z M1097,2141.5 A8,8 0 0 0 1105,2133.5 L1110,2133.5 A8,8 0 0 0 1118,2141.5 L1118,2146.5 A8,8 0 0 0 1110,2154.5 L1105,2154.5 A8,8 0 0 0 1097,2146.5 Z M1230,2141.5 A8,8 0 0 0 1238,2133.5 L1243,2133.5 A8,8 0 0 0 1251,2141.5 L1251,2146.5 A8,8 0 0 0 1243,2154.5 L1238,2154.5 A8,8 0 0 0 1230,2146.5 Z M1489.5,2141.5 A8,8 0 0 0 1497.5,2133.5 L1502.5,2133.5 A8,8 0 0 0 1510.5,2141.5 L1510.5,2146.5 A8,8 0 0 0 1502.5,2154.5 L1497.5,2154.5 A8,8 0 0 0 1489.5,2146.5 Z M1620,2141.5 A8,8 0 0 0 1628,2133.5 L1633,2133.5 A8,8 0 0 0 1641,2141.5 L1641,2146.5 A8,8 0 0 0 1633,2154.5 L1628,2154.5 A8,8 0 0 0 1620,2146.5 Z M1097.2,2258.4 A8,8 0 0 0 1105.2,2250.4 L1110.2,2250.4 A8,8 0 0 0 1118.2,2258.4 L1118.2,2263.4 A8,8 0 0 0 1110.2,2271.4 L1105.2,2271.4 A8,8 0 0 0 1097.2,2263.4 Z M1230,2258.3 A8,8 0 0 0 1238,2250.3 L1243,2250.3 A8,8 0 0 0 1251,2258.3 L1251,2263.3 A8,8 0 0 0 1243,2271.3 L1238,2271.3 A8,8 0 0 0 1230,2263.3 Z M1489.5,2258.2 A8,8 0 0 0 1497.5,2250.2 L1502.5,2250.2 A8,8 0 0 0 1510.5,2258.2 L1510.5,2263.2 A8,8 0 0 0 1502.5,2271.2 L1497.5,2271.2 A8,8 0 0 0 1489.5,2263.2 Z M1622,2258.1 A8,8 0 0 0 1630,2250.1 L1635,2250.1 A8,8 0 0 0 1643,2258.1 L1643,2263.1 A8,8 0 0 0 1635,2271.1 L1630,2271.1 A8,8 0 0 0 1622,2263.1 Z M1097.2,2366.8 A8,8 0 0 0 1105.2,2358.8 L1110.2,2358.8 A8,8 0 0 0 1118.2,2366.8 L1118.2,2371.8 A8,8 0 0 0 1110.2,2379.8 L1105.2,2379.8 A8,8 0 0 0 1097.2,2371.8 Z M1230,2367.2 A8,8 0 0 0 1238,2359.2 L1243,2359.2 A8,8 0 0 0 1251,2367.2 L1251,2372.2 A8,8 0 0 0 1243,2380.2 L1238,2380.2 A8,8 0 0 0 1230,2372.2 Z M1489.5,2367.8 A8,8 0 0 0 1497.5,2359.8 L1502.5,2359.8 A8,8 0 0 0 1510.5,2367.8 L1510.5,2372.8 A8,8 0 0 0 1502.5,2380.8 L1497.5,2380.8 A8,8 0 0 0 1489.5,2372.8 Z M1622,2368.1 A8,8 0 0 0 1630,2360.1 L1635,2360.1 A8,8 0 0 0 1643,2368.1 L1643,2373.1 A8,8 0 0 0 1635,2381.1 L1630,2381.1 A8,8 0 0 0 1622,2373.1 Z M1097.2,2493.5 A8,8 0 0 0 1105.2,2485.5 L1110.2,2485.5 A8,8 0 0 0 1118.2,2493.5 L1118.2,2498.5 A8,8 0 0 0 1110.2,2506.5 L1105.2,2506.5 A8,8 0 0 0 1097.2,2498.5 Z M1230,2493.5 A8,8 0 0 0 1238,2485.5 L1243,2485.5 A8,8 0 0 0 1251,2493.5 L1251,2498.5 A8,8 0 0 0 1243,2506.5 L1238,2506.5 A8,8 0 0 0 1230,2498.5 Z M1489.5,2493.5 A8,8 0 0 0 1497.5,2485.5 L1502.5,2485.5 A8,8 0 0 0 1510.5,2493.5 L1510.5,2498.5 A8,8 0 0 0 1502.5,2506.5 L1497.5,2506.5 A8,8 0 0 0 1489.5,2498.5 Z M1622,2493.5 A8,8 0 0 0 1630,2485.5 L1635,2485.5 A8,8 0 0 0 1643,2493.5 L1643,2498.5 A8,8 0 0 0 1635,2506.5 L1630,2506.5 A8,8 0 0 0 1622,2498.5 Z M1097.2,2598.1 A8,8 0 0 0 1105.2,2590.1 L1110.2,2590.1 A8,8 0 0 0 1118.2,2598.1 L1118.2,2603.1 A8,8 0 0 0 1110.2,2611.1 L1105.2,2611.1 A8,8 0 0 0 1097.2,2603.1 Z M1230,2598.7 A8,8 0 0 0 1238,2590.7 L1243,2590.7 A8,8 0 0 0 1251,2598.7 L1251,2603.7 A8,8 0 0 0 1243,2611.7 L1238,2611.7 A8,8 0 0 0 1230,2603.7 Z M1489.5,2599.8 A8,8 0 0 0 1497.5,2591.8 L1502.5,2591.8 A8,8 0 0 0 1510.5,2599.8 L1510.5,2604.8 A8,8 0 0 0 1502.5,2612.8 L1497.5,2612.8 A8,8 0 0 0 1489.5,2604.8 Z M1622,2600.4 A8,8 0 0 0 1630,2592.4 L1635,2592.4 A8,8 0 0 0 1643,2600.4 L1643,2605.4 A8,8 0 0 0 1635,2613.4 L1630,2613.4 A8,8 0 0 0 1622,2605.4 Z M1097.2,2732 A8,8 0 0 0 1105.2,2724 L1110.2,2724 A8,8 0 0 0 1118.2,2732 L1118.2,2737 A8,8 0 0 0 1110.2,2745 L1105.2,2745 A8,8 0 0 0 1097.2,2737 Z M1230,2733 A8,8 0 0 0 1238,2725 L1243,2725 A8,8 0 0 0 1251,2733 L1251,2738 A8,8 0 0 0 1243,2746 L1238,2746 A8,8 0 0 0 1230,2738 Z M1489.5,2734.9 A8,8 0 0 0 1497.5,2726.9 L1502.5,2726.9 A8,8 0 0 0 1510.5,2734.9 L1510.5,2739.9 A8,8 0 0 0 1502.5,2747.9 L1497.5,2747.9 A8,8 0 0 0 1489.5,2739.9 Z M1622,2735.9 A8,8 0 0 0 1630,2727.9 L1635,2727.9 A8,8 0 0 0 1643,2735.9 L1643,2740.9 A8,8 0 0 0 1635,2748.9 L1630,2748.9 A8,8 0 0 0 1622,2740.9 Z M1097.2,2834.5 A8,8 0 0 0 1105.2,2826.5 L1110.2,2826.5 A8,8 0 0 0 1118.2,2834.5 L1118.2,2839.5 A8,8 0 0 0 1110.2,2847.5 L1105.2,2847.5 A8,8 0 0 0 1097.2,2839.5 Z M1230,2834.5 A8,8 0 0 0 1238,2826.5 L1243,2826.5 A8,8 0 0 0 1251,2834.5 L1251,2839.5 A8,8 0 0 0 1243,2847.5 L1238,2847.5 A8,8 0 0 0 1230,2839.5 Z M1489.5,2834.5 A8,8 0 0 0 1497.5,2826.5 L1502.5,2826.5 A8,8 0 0 0 1510.5,2834.5 L1510.5,2839.5 A8,8 0 0 0 1502.5,2847.5 L1497.5,2847.5 A8,8 0 0 0 1489.5,2839.5 Z M1622,2834.5 A8,8 0 0 0 1630,2826.5 L1635,2826.5 A8,8 0 0 0 1643,2834.5 L1643,2839.5 A8,8 0 0 0 1635,2847.5 L1630,2847.5 A8,8 0 0 0 1622,2839.5 Z M1097.2,2956.8 A8,8 0 0 0 1105.2,2948.8 L1110.2,2948.8 A8,8 0 0 0 1118.2,2956.8 L1118.2,2961.8 A8,8 0 0 0 1110.2,2969.8 L1105.2,2969.8 A8,8 0 0 0 1097.2,2961.8 Z M1230,2957.2 A8,8 0 0 0 1238,2949.2 L1243,2949.2 A8,8 0 0 0 1251,2957.2 L1251,2962.2 A8,8 0 0 0 1243,2970.2 L1238,2970.2 A8,8 0 0 0 1230,2962.2 Z M1489.5,2957.8 A8,8 0 0 0 1497.5,2949.8 L1502.5,2949.8 A8,8 0 0 0 1510.5,2957.8 L1510.5,2962.8 A8,8 0 0 0 1502.5,2970.8 L1497.5,2970.8 A8,8 0 0 0 1489.5,2962.8 Z M1622,2958.1 A8,8 0 0 0 1630,2950.1 L1635,2950.1 A8,8 0 0 0 1643,2958.1 L1643,2963.1 A8,8 0 0 0 1635,2971.1 L1630,2971.1 A8,8 0 0 0 1622,2963.1 Z M1097.2,3076.8 A8,8 0 0 0 1105.2,3068.8 L1110.2,3068.8 A8,8 0 0 0 1118.2,3076.8 L1118.2,3081.8 A8,8 0 0 0 1110.2,3089.8 L1105.2,3089.8 A8,8 0 0 0 1097.2,3081.8 Z M1230,3076.5 A8,8 0 0 0 1238,3068.5 L1243,3068.5 A8,8 0 0 0 1251,3076.5 L1251,3081.5 A8,8 0 0 0 1243,3089.5 L1238,3089.5 A8,8 0 0 0 1230,3081.5 Z M1489.5,3076 A8,8 0 0 0 1497.5,3068 L1502.5,3068 A8,8 0 0 0 1510.5,3076 L1510.5,3081 A8,8 0 0 0 1502.5,3089 L1497.5,3089 A8,8 0 0 0 1489.5,3081 Z M1622,3075.8 A8,8 0 0 0 1630,3067.8 L1635,3067.8 A8,8 0 0 0 1643,3075.8 L1643,3080.8 A8,8 0 0 0 1635,3088.8 L1630,3088.8 A8,8 0 0 0 1622,3080.8 Z M1098.5,3182 A8,8 0 0 0 1106.5,3174 L1111.5,3174 A8,8 0 0 0 1119.5,3182 L1119.5,3187 A8,8 0 0 0 1111.5,3195 L1106.5,3195 A8,8 0 0 0 1098.5,3187 Z M1232,3183 A8,8 0 0 0 1240,3175 L1245,3175 A8,8 0 0 0 1253,3183 L1253,3188 A8,8 0 0 0 1245,3196 L1240,3196 A8,8 0 0 0 1232,3188 Z M1490.5,3184.9 A8,8 0 0 0 1498.5,3176.9 L1503.5,3176.9 A8,8 0 0 0 1511.5,3184.9 L1511.5,3189.9 A8,8 0 0 0 1503.5,3197.9 L1498.5,3197.9 A8,8 0 0 0 1490.5,3189.9 Z M1623,3185.9 A8,8 0 0 0 1631,3177.9 L1636,3177.9 A8,8 0 0 0 1644,3185.9 L1644,3190.9 A8,8 0 0 0 1636,3198.9 L1631,3198.9 A8,8 0 0 0 1623,3190.9 Z M1098.5,3307.1 A8,8 0 0 0 1106.5,3299.1 L1111.5,3299.1 A8,8 0 0 0 1119.5,3307.1 L1119.5,3312.1 A8,8 0 0 0 1111.5,3320.1 L1106.5,3320.1 A8,8 0 0 0 1098.5,3312.1 Z M1232,3307.1 A8,8 0 0 0 1240,3299.1 L1245,3299.1 A8,8 0 0 0 1253,3307.1 L1253,3312.1 A8,8 0 0 0 1245,3320.1 L1240,3320.1 A8,8 0 0 0 1232,3312.1 Z M1490.5,3307.1 A8,8 0 0 0 1498.5,3299.1 L1503.5,3299.1 A8,8 0 0 0 1511.5,3307.1 L1511.5,3312.1 A8,8 0 0 0 1503.5,3320.1 L1498.5,3320.1 A8,8 0 0 0 1490.5,3312.1 Z M1623,3307.1 A8,8 0 0 0 1631,3299.1 L1636,3299.1 A8,8 0 0 0 1644,3307.1 L1644,3312.1 A8,8 0 0 0 1636,3320.1 L1631,3320.1 A8,8 0 0 0 1623,3312.1 Z M1098.5,3431 A8,8 0 0 0 1106.5,3423 L1111.5,3423 A8,8 0 0 0 1119.5,3431 L1119.5,3436 A8,8 0 0 0 1111.5,3444 L1106.5,3444 A8,8 0 0 0 1098.5,3436 Z M1232,3430.5 A8,8 0 0 0 1240,3422.5 L1245,3422.5 A8,8 0 0 0 1253,3430.5 L1253,3435.5 A8,8 0 0 0 1245,3443.5 L1240,3443.5 A8,8 0 0 0 1232,3435.5 Z M1490.5,3429.5 A8,8 0 0 0 1498.5,3421.5 L1503.5,3421.5 A8,8 0 0 0 1511.5,3429.5 L1511.5,3434.5 A8,8 0 0 0 1503.5,3442.5 L1498.5,3442.5 A8,8 0 0 0 1490.5,3434.5 Z M1623,3429 A8,8 0 0 0 1631,3421 L1636,3421 A8,8 0 0 0 1644,3429 L1644,3434 A8,8 0 0 0 1636,3442 L1631,3442 A8,8 0 0 0 1623,3434 Z M1098.5,3561.8 A8,8 0 0 0 1106.5,3553.8 L1111.5,3553.8 A8,8 0 0 0 1119.5,3561.8 L1119.5,3566.8 A8,8 0 0 0 1111.5,3574.8 L1106.5,3574.8 A8,8 0 0 0 1098.5,3566.8 Z M1232,3562.7 A8,8 0 0 0 1240,3554.7 L1245,3554.7 A8,8 0 0 0 1253,3562.7 L1253,3567.7 A8,8 0 0 0 1245,3575.7 L1240,3575.7 A8,8 0 0 0 1232,3567.7 Z M1490.5,3564.3 A8,8 0 0 0 1498.5,3556.3 L1503.5,3556.3 A8,8 0 0 0 1511.5,3564.3 L1511.5,3569.3 A8,8 0 0 0 1503.5,3577.3 L1498.5,3577.3 A8,8 0 0 0 1490.5,3569.3 Z M1623,3565.1 A8,8 0 0 0 1631,3557.1 L1636,3557.1 A8,8 0 0 0 1644,3565.1 L1644,3570.1 A8,8 0 0 0 1636,3578.1 L1631,3578.1 A8,8 0 0 0 1623,3570.1 Z M1098.5,3686.9 A8,8 0 0 0 1106.5,3678.9 L1111.5,3678.9 A8,8 0 0 0 1119.5,3686.9 L1119.5,3691.9 A8,8 0 0 0 1111.5,3699.9 L1106.5,3699.9 A8,8 0 0 0 1098.5,3691.9 Z M1232,3686.8 A8,8 0 0 0 1240,3678.8 L1245,3678.8 A8,8 0 0 0 1253,3686.8 L1253,3691.8 A8,8 0 0 0 1245,3699.8 L1240,3699.8 A8,8 0 0 0 1232,3691.8 Z M1490.5,3686.7 A8,8 0 0 0 1498.5,3678.7 L1503.5,3678.7 A8,8 0 0 0 1511.5,3686.7 L1511.5,3691.7 A8,8 0 0 0 1503.5,3699.7 L1498.5,3699.7 A8,8 0 0 0 1490.5,3691.7 Z M1623,3686.6 A8,8 0 0 0 1631,3678.6 L1636,3678.6 A8,8 0 0 0 1644,3686.6 L1644,3691.6 A8,8 0 0 0 1636,3699.6 L1631,3699.6 A8,8 0 0 0 1623,3691.6 Z M1099.5,3803.1 A8,8 0 0 0 1107.5,3795.1 L1112.5,3795.1 A8,8 0 0 0 1120.5,3803.1 L1120.5,3808.1 A8,8 0 0 0 1112.5,3816.1 L1107.5,3816.1 A8,8 0 0 0 1099.5,3808.1 Z M1238.5,3804.2 A8,8 0 0 0 1246.5,3796.2 L1251.5,3796.2 A8,8 0 0 0 1259.5,3804.2 L1259.5,3809.2 A8,8 0 0 0 1251.5,3817.2 L1246.5,3817.2 A8,8 0 0 0 1238.5,3809.2 Z M1491,3806.3 A8,8 0 0 0 1499,3798.3 L1504,3798.3 A8,8 0 0 0 1512,3806.3 L1512,3811.3 A8,8 0 0 0 1504,3819.3 L1499,3819.3 A8,8 0 0 0 1491,3811.3 Z M1623.5,3807.4 A8,8 0 0 0 1631.5,3799.4 L1636.5,3799.4 A8,8 0 0 0 1644.5,3807.4 L1644.5,3812.4 A8,8 0 0 0 1636.5,3820.4 L1631.5,3820.4 A8,8 0 0 0 1623.5,3812.4 Z M1099.5,3933.1 A8,8 0 0 0 1107.5,3925.1 L1112.5,3925.1 A8,8 0 0 0 1120.5,3933.1 L1120.5,3938.1 A8,8 0 0 0 1112.5,3946.1 L1107.5,3946.1 A8,8 0 0 0 1099.5,3938.1 Z M1238.5,3934.2 A8,8 0 0 0 1246.5,3926.2 L1251.5,3926.2 A8,8 0 0 0 1259.5,3934.2 L1259.5,3939.2 A8,8 0 0 0 1251.5,3947.2 L1246.5,3947.2 A8,8 0 0 0 1238.5,3939.2 Z M1491,3936.3 A8,8 0 0 0 1499,3928.3 L1504,3928.3 A8,8 0 0 0 1512,3936.3 L1512,3941.3 A8,8 0 0 0 1504,3949.3 L1499,3949.3 A8,8 0 0 0 1491,3941.3 Z M1623.5,3937.4 A8,8 0 0 0 1631.5,3929.4 L1636.5,3929.4 A8,8 0 0 0 1644.5,3937.4 L1644.5,3942.4 A8,8 0 0 0 1636.5,3950.4 L1631.5,3950.4 A8,8 0 0 0 1623.5,3942.4 Z M1102.5,4058.5 A8,8 0 0 0 1110.5,4050.5 L1115.5,4050.5 A8,8 0 0 0 1123.5,4058.5 L1123.5,4063.5 A8,8 0 0 0 1115.5,4071.5 L1110.5,4071.5 A8,8 0 0 0 1102.5,4063.5 Z M1237.5,4058.5 A8,8 0 0 0 1245.5,4050.5 L1250.5,4050.5 A8,8 0 0 0 1258.5,4058.5 L1258.5,4063.5 A8,8 0 0 0 1250.5,4071.5 L1245.5,4071.5 A8,8 0 0 0 1237.5,4063.5 Z M1491,4058.5 A8,8 0 0 0 1499,4050.5 L1504,4050.5 A8,8 0 0 0 1512,4058.5 L1512,4063.5 A8,8 0 0 0 1504,4071.5 L1499,4071.5 A8,8 0 0 0 1491,4063.5 Z M1626,4058.5 A8,8 0 0 0 1634,4050.5 L1639,4050.5 A8,8 0 0 0 1647,4058.5 L1647,4063.5 A8,8 0 0 0 1639,4071.5 L1634,4071.5 A8,8 0 0 0 1626,4063.5 Z M1102.5,4177.9 A8,8 0 0 0 1110.5,4169.9 L1115.5,4169.9 A8,8 0 0 0 1123.5,4177.9 L1123.5,4182.9 A8,8 0 0 0 1115.5,4190.9 L1110.5,4190.9 A8,8 0 0 0 1102.5,4182.9 Z M1237.5,4178.7 A8,8 0 0 0 1245.5,4170.7 L1250.5,4170.7 A8,8 0 0 0 1258.5,4178.7 L1258.5,4183.7 A8,8 0 0 0 1250.5,4191.7 L1245.5,4191.7 A8,8 0 0 0 1237.5,4183.7 Z M1491,4180.3 A8,8 0 0 0 1499,4172.3 L1504,4172.3 A8,8 0 0 0 1512,4180.3 L1512,4185.3 A8,8 0 0 0 1504,4193.3 L1499,4193.3 A8,8 0 0 0 1491,4185.3 Z M1626,4181.1 A8,8 0 0 0 1634,4173.1 L1639,4173.1 A8,8 0 0 0 1647,4181.1 L1647,4186.1 A8,8 0 0 0 1639,4194.1 L1634,4194.1 A8,8 0 0 0 1626,4186.1 Z M1102.5,4285.5 A8,8 0 0 0 1110.5,4277.5 L1115.5,4277.5 A8,8 0 0 0 1123.5,4285.5 L1123.5,4290.5 A8,8 0 0 0 1115.5,4298.5 L1110.5,4298.5 A8,8 0 0 0 1102.5,4290.5 Z M1237.5,4285.5 A8,8 0 0 0 1245.5,4277.5 L1250.5,4277.5 A8,8 0 0 0 1258.5,4285.5 L1258.5,4290.5 A8,8 0 0 0 1250.5,4298.5 L1245.5,4298.5 A8,8 0 0 0 1237.5,4290.5 Z M1491,4285.5 A8,8 0 0 0 1499,4277.5 L1504,4277.5 A8,8 0 0 0 1512,4285.5 L1512,4290.5 A8,8 0 0 0 1504,4298.5 L1499,4298.5 A8,8 0 0 0 1491,4290.5 Z M1626,4285.5 A8,8 0 0 0 1634,4277.5 L1639,4277.5 A8,8 0 0 0 1647,4285.5 L1647,4290.5 A8,8 0 0 0 1639,4298.5 L1634,4298.5 A8,8 0 0 0 1626,4290.5 Z M1102.5,4377.5 A8,8 0 0 0 1110.5,4369.5 L1115.5,4369.5 A8,8 0 0 0 1123.5,4377.5 L1123.5,4382.5 A8,8 0 0 0 1115.5,4390.5 L1110.5,4390.5 A8,8 0 0 0 1102.5,4382.5 Z M1237.5,4377.5 A8,8 0 0 0 1245.5,4369.5 L1250.5,4369.5 A8,8 0 0 0 1258.5,4377.5 L1258.5,4382.5 A8,8 0 0 0 1250.5,4390.5 L1245.5,4390.5 A8,8 0 0 0 1237.5,4382.5 Z M1491,4377.5 A8,8 0 0 0 1499,4369.5 L1504,4369.5 A8,8 0 0 0 1512,4377.5 L1512,4382.5 A8,8 0 0 0 1504,4390.5 L1499,4390.5 A8,8 0 0 0 1491,4382.5 Z M1626,4377.5 A8,8 0 0 0 1634,4369.5 L1639,4369.5 A8,8 0 0 0 1647,4377.5 L1647,4382.5 A8,8 0 0 0 1639,4390.5 L1634,4390.5 A8,8 0 0 0 1626,4382.5 Z"/>
<ellipse class="dot" cx="1107.5" cy="401.5" rx="13" ry="12"/>
<ellipse class="dot" cx="1240.5" cy="401.6" rx="13" ry="12"/>
<ellipse class="dot" cx="1498.5" cy="396.7" rx="13" ry="12"/>
<ellipse class="dot" cx="1630" cy="396.7" rx="13" ry="12"/>
<ellipse class="dot" cx="1107.5" cy="514.4" rx="13" ry="12"/>
<ellipse class="dot" cx="1240.5" cy="513.8" rx="13" ry="12"/>
<ellipse class="dot" cx="1498.5" cy="520.7" rx="13" ry="12"/>
<ellipse class="dot" cx="1630" cy="520.1" rx="13" ry="12"/>
<ellipse class="dot" cx="1107.5" cy="636.3" rx="13" ry="12"/>
<ellipse class="dot" cx="1240.5" cy="635.2" rx="13" ry="12"/>
<ellipse class="dot" cx="1498.5" cy="632.9" rx="13" ry="12"/>
<ellipse class="dot" cx="1630" cy="631.8" rx="13" ry="12"/>
<ellipse class="dot" cx="1107.5" cy="751.2" rx="13" ry="12"/>
<ellipse class="dot" cx="1240.5" cy="748.9" rx="13" ry="12"/>
<ellipse class="dot" cx="1498.5" cy="744.3" rx="13" ry="12"/>
<ellipse class="dot" cx="1630" cy="742" rx="13" ry="12"/>
<ellipse class="dot" cx="1107.5" cy="865" rx="13" ry="12"/>
<ellipse class="dot" cx="1240.5" cy="865" rx="13" ry="12"/>
<ellipse class="dot" cx="1498.5" cy="865" rx="13" ry="12"/>
<ellipse class="dot" cx="1630" cy="865" rx="13" ry="12"/>
<ellipse class="dot" cx="1107.5" cy="986" rx="13" ry="12"/>
<ellipse class="dot" cx="1240.5" cy="985.2" rx="13" ry="12"/>
<ellipse class="dot" cx="1499" cy="983.7" rx="13" ry="12"/>
<ellipse class="dot" cx="1630" cy="982.9" rx="13" ry="12"/>
<ellipse class="dot" cx="1107.5" cy="1093.5" rx="13" ry="12"/>
<ellipse class="dot" cx="1240.5" cy="1094" rx="13" ry="12"/>
<ellipse class="dot" cx="1499" cy="1095" rx="13" ry="12"/>
<ellipse class="dot" cx="1630" cy="1095.5" rx="13" ry="12"/>
<ellipse class="dot" cx="1107.5" cy="1218.3" rx="13" ry="12"/>
<ellipse class="dot" cx="1240.5" cy="1218.2" rx="13" ry="12"/>
<ellipse class="dot" cx="1499" cy="1217.8" rx="13" ry="12"/>
<ellipse class="dot" cx="1630" cy="1217.7" rx="13" ry="12"/>
<ellipse class="dot" cx="1107.5" cy="1329.1" rx="13" ry="12"/>
<ellipse class="dot" cx="1240.5" cy="1329.7" rx="13" ry="12"/>
<ellipse class="dot" cx="1499" cy="1330.8" rx="13" ry="12"/>
<ellipse class="dot" cx="1630" cy="1331.4" rx="13" ry="12"/>
<ellipse class="dot" cx="1107.5" cy="1458.3" rx="13" ry="12"/>
<ellipse class="dot" cx="1240.5" cy="1459.2" rx="13" ry="12"/>
<ellipse class="dot" cx="1499" cy="1460.8" rx="13" ry="12"/>
<ellipse class="dot" cx="1630" cy="1461.6" rx="13" ry="12"/>
<ellipse class="dot" cx="1107.5" cy="1565.7" rx="13" ry="12"/>
<ellipse class="dot" cx="1240.5" cy="1565.8" rx="13" ry="12"/>
<ellipse class="dot" cx="1499" cy="1566.2" rx="13" ry="12"/>
<ellipse class="dot" cx="1630" cy="1566.3" rx="13" ry="12"/>
<ellipse class="dot" cx="1107.5" cy="1681.2" rx="13" ry="12"/>
<ellipse class="dot" cx="1240.5" cy="1680.8" rx="13" ry="12"/>
<ellipse class="dot" cx="1500" cy="1680.1" rx="13" ry="12"/>
<ellipse class="dot" cx="1630.5" cy="1679.7" rx="13" ry="12"/>
<ellipse class="dot" cx="1107.5" cy="1798.2" rx="13" ry="12"/>
<ellipse class="dot" cx="1240.5" cy="1797.8" rx="13" ry="12"/>
<ellipse class="dot" cx="1500" cy="1797.1" rx="13" ry="12"/>
<ellipse class="dot" cx="1630.5" cy="1796.7" rx="13" ry="12"/>
<ellipse class="dot" cx="1107.5" cy="1914.9" rx="13" ry="12"/>
<ellipse class="dot" cx="1240.5" cy="1914.3" rx="13" ry="12"/>
<ellipse class="dot" cx="1500" cy="1913.2" rx="13" ry="12"/>
<ellipse class="dot" cx="1630.5" cy="1912.6" rx="13" ry="12"/>
<ellipse class="dot" cx="1107.5" cy="2030.5" rx="13" ry="12"/>
<ellipse class="dot" cx="1240.5" cy="2028.4" rx="13" ry="12"/>
<ellipse class="dot" cx="1500" cy="2024.3" rx="13" ry="12"/>
<ellipse class="dot" cx="1630.5" cy="2022.3" rx="13" ry="12"/>
<ellipse class="dot" cx="1107.5" cy="2146" rx="13" ry="12"/>
<ellipse class="dot" cx="1240.5" cy="2146" rx="13" ry="12"/>
<ellipse class="dot" cx="1500" cy="2146" rx="13" ry="12"/>
<ellipse class="dot" cx="1630.5" cy="2146" rx="13" ry="12"/>
<ellipse class="dot" cx="1107.7" cy="2262.9" rx="13" ry="12"/>
<ellipse class="dot" cx="1240.5" cy="2262.8" rx="13" ry="12"/>
<ellipse class="dot" cx="1500" cy="2262.7" rx="13" ry="12"/>
<ellipse class="dot" cx="1632.5" cy="2262.6" rx="13" ry="12"/>
<ellipse class="dot" cx="1107.7" cy="2371.3" rx="13" ry="12"/>
<ellipse class="dot" cx="1240.5" cy="2371.7" rx="13" ry="12"/>
<ellipse class="dot" cx="1500" cy="2372.3" rx="13" ry="12"/>
<ellipse class="dot" cx="1632.5" cy="2372.6" rx="13" ry="12"/>
<ellipse class="dot" cx="1107.7" cy="2498" rx="13" ry="12"/>
<ellipse class="dot" cx="1240.5" cy="2498" rx="13" ry="12"/>
<ellipse class="dot" cx="1500" cy="2498" rx="13" ry="12"/>
<ellipse class="dot" cx="1632.5" cy="2498" rx="13" ry="12"/>
<ellipse class="dot" cx="1107.7" cy="2602.6" rx="13" ry="12"/>
<ellipse class="dot" cx="1240.5" cy="2603.2" rx="13" ry="12"/>
<ellipse class="dot" cx="1500" cy="2604.3" rx="13" ry="12"/>
<ellipse class="dot" cx="1632.5" cy="2604.9" rx="13" ry="12"/>
<ellipse class="dot" cx="1107.7" cy="2736.5" rx="13" ry="12"/>
<ellipse class="dot" cx="1240.5" cy="2737.5" rx="13" ry="12"/>
<ellipse class="dot" cx="1500" cy="2739.4" rx="13" ry="12"/>
<ellipse class="dot" cx="1632.5" cy="2740.4" rx="13" ry="12"/>
<ellipse class="dot" cx="1107.7" cy="2839" rx="13" ry="12"/>
<ellipse class="dot" cx="1240.5" cy="2839" rx="13" ry="12"/>
<ellipse class="dot" cx="1500" cy="2839" rx="13" ry="12"/>
<ellipse class="dot" cx="1632.5" cy="2839" rx="13" ry="12"/>
<ellipse class="dot" cx="1107.7" cy="2961.3" rx="13" ry="12"/>
<ellipse class="dot" cx="1240.5" cy="2961.7" rx="13" ry="12"/>
<ellipse class="dot" cx="1500" cy="2962.3" rx="13" ry="12"/>
<ellipse class="dot" cx="1632.5" cy="2962.6" rx="13" ry="12"/>
<ellipse class="dot" cx="1107.7" cy="3081.3" rx="13" ry="12"/>
<ellipse class="dot" cx="1240.5" cy="3081" rx="13" ry="12"/>
<ellipse class="dot" cx="1500" cy="3080.5" rx="13" ry="12"/>
<ellipse class="dot" cx="1632.5" cy="3080.3" rx="13" ry="12"/>
<ellipse class="dot" cx="1109" cy="3186.5" rx="13" ry="12"/>
<ellipse class="dot" cx="1242.5" cy="3187.5" rx="13" ry="12"/>
<ellipse class="dot" cx="1501" cy="3189.4" rx="13" ry="12"/>
<ellipse class="dot" cx="1633.5" cy="3190.4" rx="13" ry="12"/>
<ellipse class="dot" cx="1109" cy="3311.6" rx="13" ry="12"/>
<ellipse class="dot" cx="1242.5" cy="3311.6" rx="13" ry="12"/>
<ellipse class="dot" cx="1501" cy="3311.6" rx="13" ry="12"/>
<ellipse class="dot" cx="1633.5" cy="3311.6" rx="13" ry="12"/>
<ellipse class="dot" cx="1109" cy="3435.5" rx="13" ry="12"/>
<ellipse class="dot" cx="1242.5" cy="3435" rx="13" ry="12"/>
<ellipse class="dot" cx="1501" cy="3434" rx="13" ry="12"/>
<ellipse class="dot" cx="1633.5" cy="3433.5" rx="13" ry="12"/>
<ellipse class="dot" cx="1109" cy="3566.3" rx="13" ry="12"/>
<ellipse class="dot" cx="1242.5" cy="3567.2" rx="13" ry="12"/>
<ellipse class="dot" cx="1501" cy="3568.8" rx="13" ry="12"/>
<ellipse class="dot" cx="1633.5" cy="3569.6" rx="13" ry="12"/>
<ellipse class="dot" cx="1109" cy="3691.4" rx="13" ry="12"/>
<ellipse class="dot" cx="1242.5" cy="3691.3" rx="13" ry="12"/>
<ellipse class="dot" cx="1501" cy="3691.2" rx="13" ry="12"/>
<ellipse class="dot" cx="1633.5" cy="3691.1" rx="13" ry="12"/>
<ellipse class="dot" cx="1110" cy="3807.6" rx="13" ry="12"/>
<ellipse class="dot" cx="1249" cy="3808.7" rx="13" ry="12"/>
<ellipse class="dot" cx="1501.5" cy="3810.8" rx="13" ry="12"/>
<ellipse class="dot" cx="1634" cy="3811.9" rx="13" ry="12"/>
<ellipse class="dot" cx="1110" cy="3937.6" rx="13" ry="12"/>
<ellipse class="dot" cx="1249" cy="3938.7" rx="13" ry="12"/>
<ellipse class="dot" cx="1501.5" cy="3940.8" rx="13" ry="12"/>
<ellipse class="dot" cx="1634" cy="3941.9" rx="13" ry="12"/>
<ellipse class="dot" cx="1113" cy="4065" rx="13" ry="12"/>
<ellipse class="dot" cx="1248" cy="4065" rx="13" ry="12"/>
<ellipse class="dot" cx="1501.5" cy="4065" rx="13" ry="12"/>
<ellipse class="dot" cx="1636.5" cy="4065" rx="13" ry="12"/>
<ellipse class="dot" cx="1113" cy="4186.4" rx="13" ry="12"/>
<ellipse class="dot" cx="1248" cy="4187.2" rx="13" ry="12"/>
<ellipse class="dot" cx="1501.5" cy="4188.8" rx="13" ry="12"/>
<ellipse class="dot" cx="1636.5" cy="4189.6" rx="13" ry="12"/>
<ellipse class="dot" cx="1113" cy="4296" rx="13" ry="12"/>
<ellipse class="dot" cx="1248" cy="4296" rx="13" ry="12"/>
<ellipse class="dot" cx="1501.5" cy="4296" rx="13" ry="12"/>
<ellipse class="dot" cx="1636.5" cy="4296" rx="13" ry="12"/>
<ellipse class="dot" cx="1113" cy="4390" rx="13" ry="12"/>
<ellipse class="dot" cx="1248" cy="4390" rx="13" ry="12"/>
<ellipse class="dot" cx="1501.5" cy="4390" rx="13" ry="12"/>
<ellipse class="dot" cx="1636.5" cy="4390" rx="13" ry="12"/>
<rect x="1358" y="270" width="17" height="596" fill="#fff"/>
<rect x="1361" y="864" width="19" height="690.5" fill="#fff"/>
<rect x="1361" y="1552.5" width="20" height="592.5" fill="#fff"/>
<rect x="1362" y="2143" width="21" height="937.5" fill="#fff"/>
<rect x="1365" y="3078.5" width="19" height="612" fill="#fff"/>
<rect x="1365" y="3688.5" width="19" height="247" fill="#fff"/>
<rect x="1367" y="3933.5" width="18" height="551.5" fill="#fff"/>
</g>
<g id="labels">
<line class="tk" x1="919" y1="323.5" x2="975" y2="323.5"/>
<text class="lbl" transform="translate(883.5 354.5) scale(1.077 1)">CAMTA</text>
<line class="tk" x1="919" y1="450" x2="975" y2="450"/>
<text class="lbl" transform="translate(879 474) scale(1.077 1)">C2H2</text>
<line class="tk" x1="915" y1="563.7" x2="975" y2="563.7"/>
<text class="lbl" transform="translate(916 589.4) scale(1.077 1)">ZF-HD</text>
<line class="tk" x1="917" y1="679.5" x2="975" y2="679.5"/>
<text class="lbl" transform="translate(887 696.5) scale(1.077 1)">NAC</text>
<line class="tk" x1="915" y1="796.4" x2="975" y2="796.4"/>
<text class="lbl" transform="translate(904.5 821.6) scale(1.077 1)">GRAS</text>
<line class="tk" x1="919" y1="913" x2="979" y2="913"/>
<text class="lbl" transform="translate(898 940) scale(1.077 1)">HB-HD-ZIP</text>
<line class="tk" x1="920" y1="1032.6" x2="979" y2="1032.6"/>
<text class="lbl" transform="translate(888 1052.7) scale(1.077 1)">LBD</text>
<line class="tk" x1="907" y1="1147.5" x2="969.5" y2="1147.5"/>
<text class="lbl" transform="translate(906.3 1172) scale(1.077 1)">CSD</text>
<line class="tk" x1="911" y1="1263.4" x2="969.5" y2="1263.4"/>
<text class="lbl" transform="translate(879 1294) scale(1.077 1)">TCP</text>
<line class="tk" x1="920" y1="1378.5" x2="979" y2="1378.5"/>
<text class="lbl" transform="translate(853.5 1405.4) scale(1.077 1)">DBB</text>
<line class="tk" x1="925" y1="1495.5" x2="979" y2="1495.5"/>
<text class="lbl" transform="translate(855.6 1523.7) scale(1.077 1)">GARP-G2-like</text>
<line class="tk" x1="919" y1="1603.1" x2="973" y2="1603.1"/>
<text class="lbl" transform="translate(885 1632.8) scale(1.077 1)">MYB-related</text>
<line class="tk" x1="917" y1="1727.5" x2="973" y2="1727.5"/>
<text class="lbl" transform="translate(879 1747.5) scale(1.077 1)">AP2/ERF-AP2</text>
<line class="tk" x1="915" y1="1844.5" x2="973" y2="1844.5"/>
<text class="lbl" transform="translate(918 1865) scale(1.077 1)">C3H</text>
<line class="tk" x1="915" y1="1957.5" x2="973" y2="1957.5"/>
<text class="lbl" transform="translate(881.5 1974) scale(1.047 1)">WRKY</text>
<line class="tk" x1="919" y1="2074.9" x2="973" y2="2074.9"/>
<text class="lbl" transform="translate(902 2100.8) scale(1.055 1)">bHLH</text>
<line class="tk" x1="919" y1="2190.2" x2="979" y2="2190.2"/>
<text class="lbl" transform="translate(902.4 2214) scale(1.077 1)">AP2/ERF-RAV</text>
<line class="tk" x1="919" y1="2308" x2="979" y2="2308"/>
<text class="lbl" transform="translate(885.8 2332) scale(1.077 1)">B3-RAF</text>
<line class="tk" x1="908" y1="2425.5" x2="971" y2="2425.5"/>
<text class="lbl" transform="translate(906 2450) scale(1.077 1)">HB-BELL</text>
<line class="tk" x1="911" y1="2538.1" x2="971" y2="2538.1"/>
<text class="lbl" transform="translate(879 2574) scale(1.077 1)">bZIP</text>
<line class="tk" x1="919" y1="2655.5" x2="979" y2="2655.5"/>
<text class="lbl" transform="translate(858 2681.5) scale(1.077 1)">C2C2-GATA</text>
<line class="tk" x1="925" y1="2772.5" x2="979" y2="2772.5"/>
<text class="lbl" transform="translate(837.7 2802.4) scale(1.077 1)">HSF</text>
<line class="tk" x1="919" y1="2895.2" x2="979" y2="2895.2"/>
<text class="lbl" transform="translate(817 2923) scale(1.077 1)">Tify</text>
<line class="tk" x1="917" y1="3014.5" x2="979" y2="3014.5"/>
<text class="lbl" transform="translate(861 3044.5) scale(1.077 1)">PLATZ</text>
<line class="tk" x1="919" y1="3131.1" x2="979" y2="3131.1"/>
<text class="lbl" transform="translate(866.4 3168) scale(1.077 1)">AP2/ERF-ERF</text>
<line class="tk" x1="923" y1="3250.2" x2="979" y2="3250.2"/>
<text class="lbl" transform="translate(857 3275) scale(1.077 1)">Trihelix</text>
<line class="tk" x1="919" y1="3369.1" x2="979" y2="3369.1"/>
<text class="lbl" transform="translate(857 3396.8) scale(1.09 1)">C2C2-Dof</text>
<line class="tk" x1="925" y1="3493.5" x2="979" y2="3493.5"/>
<text class="lbl" transform="translate(860 3518) scale(1.077 1)">NF-YA</text>
<line class="tk" x1="917" y1="3615.6" x2="979" y2="3615.6"/>
<text class="lbl" transform="translate(850.7 3641) scale(1.077 1)">MYB</text>
<line class="tk" x1="919" y1="3733.2" x2="979" y2="3733.2"/>
<text class="lbl" transform="translate(846.5 3758) scale(1.055 1)">FAR1</text>
<line class="tk" x1="911" y1="3863" x2="970" y2="3863"/>
<text class="lbl" transform="translate(865.8 3873) scale(1.077 1)">RWP-RK</text>
<line class="tk" x1="921" y1="3989.5" x2="980" y2="3989.5"/>
<text class="lbl" transform="translate(873.6 4015) scale(1.085 1)">C2C2-CO-like</text>
<line class="tk" x1="913" y1="4122.5" x2="975" y2="4122.5"/>
<text class="lbl" transform="translate(872 4132.6) scale(1.077 1)">HB-KNOX</text>
<line class="tk" x1="921" y1="4217.5" x2="980" y2="4217.5"/>
<text class="lbl" transform="translate(873 4246) scale(1.077 1)">C2C2-YABBY</text>
<line class="tk" x1="916" y1="4326.5" x2="980" y2="4326.5"/>
<text class="lbl" transform="translate(885 4354.6) scale(1.077 1)">C2C2-LSD</text>
<line class="tk" x1="928" y1="4437.5" x2="989" y2="4437.5"/>
<text class="lbl" transform="translate(885 4466) scale(1.077 1)">MADS-MIKC</text>
</g>
<g id="legend">
<rect x="990.5" y="140" width="755.5" height="95" fill="url(#lg)" filter="url(#soft)"/>
<text transform="translate(1024.5 122.5) scale(1.072 1)" style="font-size:78.7px">Up</text>
<text transform="translate(1745 122.5) scale(1.053 1)" style="font-size:78.7px;text-anchor:end">Down</text>
<line x1="1270" y1="251.5" x2="1362" y2="253.5" stroke="#000" stroke-width="2.8"/>
<polygon points="1237,252 1273,235 1273,269" fill="#000"/>
<line x1="1382" y1="253" x2="1476" y2="254.5" stroke="#000" stroke-width="2.8"/>
<polygon points="1508,254 1473,237 1473,271" fill="#000"/>
</g>
<g id="axis">
<text class="ax" transform="translate(1047.6 4552.5) scale(1.03 1)">20</text>
<text class="ax" transform="translate(1178.5 4552.5) scale(1.03 1)">10</text>
<text class="ax" transform="translate(1297.3 4551.5) scale(1.03 1)">5</text>
<text class="ax" transform="translate(1382.5 4557) scale(1.03 1)">0</text>
<text class="ax" transform="translate(1456.6 4551.5) scale(1.03 1)">5</text>
<text class="ax" transform="translate(1575.6 4550.5) scale(1.03 1)">10</text>
<text class="ax" transform="translate(1708.4 4550.5) scale(1.03 1)">20</text>
<text transform="translate(1770 4543.5) scale(1.095 1)" style="font-size:60px">Number</text>
</g>
<text transform="translate(1942 3831) rotate(-90) scale(1 1.138)" style="font-size:112.2px;font-kerning:none;stroke-width:0.8px">Transcription Factor Families in Response to Drought Stress</text>
</svg>
</body></html>
